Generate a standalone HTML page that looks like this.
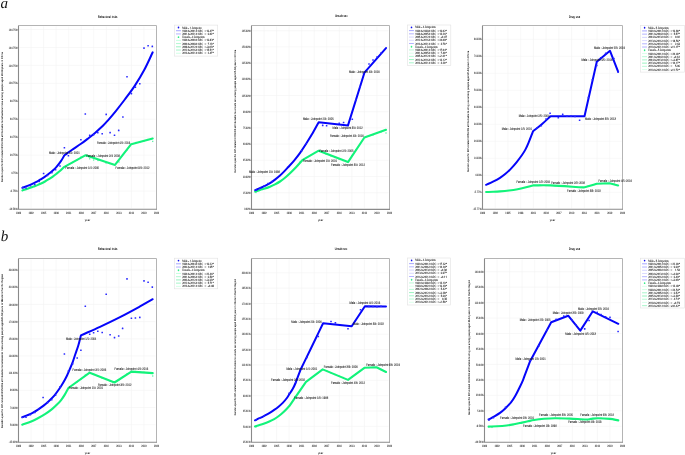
<!DOCTYPE html><html><head><meta charset="utf-8"><style>html,body{margin:0;padding:0;background:#fff;width:685px;height:455px;overflow:hidden}svg{display:block;will-change:transform}</style></head><body>
<svg width="685" height="455" viewBox="0 0 685 455" font-family='&quot;Liberation Sans&quot;, sans-serif' style="text-rendering:geometricPrecision">
<rect width="685" height="455" fill="#fff"/>
<text x="0.6" y="8.0" font-family="'Liberation Serif', serif" font-style="italic" font-size="15" fill="#111">a</text>
<text x="0.8" y="240.8" font-family="'Liberation Serif', serif" font-style="italic" font-size="15" fill="#111">b</text>
<path d="M31.05 26.5V208.3M43.59 26.5V208.3M56.14 26.5V208.3M68.68 26.5V208.3M81.23 26.5V208.3M93.77 26.5V208.3M106.32 26.5V208.3M118.86 26.5V208.3M131.41 26.5V208.3M143.95 26.5V208.3M19.5 29.5H155.5M19.5 47.45H155.5M19.5 65.4H155.5M19.5 83.35H155.5M19.5 101.3H155.5M19.5 119.25H155.5M19.5 137.2H155.5M19.5 155.15H155.5M19.5 173.1H155.5M19.5 191.05H155.5" stroke="#f4f4f4" stroke-width="0.6" fill="none"/>
<path d="M18.5 25.5H156.5V209.3" stroke="#b4b4b4" stroke-width="1" fill="none"/>
<path d="M18.5 25.5V209.3H157" stroke="#8a8a8a" stroke-width="1.1" fill="none"/>
<text x="17.5" y="30.6" font-size="3.2" text-anchor="end" fill="#222" font-weight="normal" textLength="8.82" lengthAdjust="spacingAndGlyphs"  stroke="#222" stroke-width="0.06">164.75%</text>
<path d="M17.2 29.5H18.5" stroke="#777" stroke-width="0.5"/>
<text x="17.5" y="48.55" font-size="3.2" text-anchor="end" fill="#222" font-weight="normal" textLength="8.82" lengthAdjust="spacingAndGlyphs"  stroke="#222" stroke-width="0.06">144.75%</text>
<path d="M17.2 47.45H18.5" stroke="#777" stroke-width="0.5"/>
<text x="17.5" y="66.5" font-size="3.2" text-anchor="end" fill="#222" font-weight="normal" textLength="8.82" lengthAdjust="spacingAndGlyphs"  stroke="#222" stroke-width="0.06">124.75%</text>
<path d="M17.2 65.4H18.5" stroke="#777" stroke-width="0.5"/>
<text x="17.5" y="84.45" font-size="3.2" text-anchor="end" fill="#222" font-weight="normal" textLength="8.82" lengthAdjust="spacingAndGlyphs"  stroke="#222" stroke-width="0.06">104.75%</text>
<path d="M17.2 83.35H18.5" stroke="#777" stroke-width="0.5"/>
<text x="17.5" y="102.4" font-size="3.2" text-anchor="end" fill="#222" font-weight="normal" textLength="7.56" lengthAdjust="spacingAndGlyphs"  stroke="#222" stroke-width="0.06">84.75%</text>
<path d="M17.2 101.3H18.5" stroke="#777" stroke-width="0.5"/>
<text x="17.5" y="120.35" font-size="3.2" text-anchor="end" fill="#222" font-weight="normal" textLength="7.56" lengthAdjust="spacingAndGlyphs"  stroke="#222" stroke-width="0.06">64.75%</text>
<path d="M17.2 119.25H18.5" stroke="#777" stroke-width="0.5"/>
<text x="17.5" y="138.3" font-size="3.2" text-anchor="end" fill="#222" font-weight="normal" textLength="7.56" lengthAdjust="spacingAndGlyphs"  stroke="#222" stroke-width="0.06">44.75%</text>
<path d="M17.2 137.2H18.5" stroke="#777" stroke-width="0.5"/>
<text x="17.5" y="156.25" font-size="3.2" text-anchor="end" fill="#222" font-weight="normal" textLength="7.56" lengthAdjust="spacingAndGlyphs"  stroke="#222" stroke-width="0.06">24.75%</text>
<path d="M17.2 155.15H18.5" stroke="#777" stroke-width="0.5"/>
<text x="17.5" y="174.2" font-size="3.2" text-anchor="end" fill="#222" font-weight="normal" textLength="6.3" lengthAdjust="spacingAndGlyphs"  stroke="#222" stroke-width="0.06">4.75%</text>
<path d="M17.2 173.1H18.5" stroke="#777" stroke-width="0.5"/>
<text x="17.5" y="192.15" font-size="3.2" text-anchor="end" fill="#222" font-weight="normal" textLength="7.56" lengthAdjust="spacingAndGlyphs"  stroke="#222" stroke-width="0.06">-0.75%</text>
<path d="M17.2 191.05H18.5" stroke="#777" stroke-width="0.5"/>
<text x="17.5" y="210.1" font-size="3.2" text-anchor="end" fill="#222" font-weight="normal" textLength="8.82" lengthAdjust="spacingAndGlyphs"  stroke="#222" stroke-width="0.06">-14.58%</text>
<path d="M17.2 209H18.5" stroke="#777" stroke-width="0.5"/>
<text x="18.5" y="213.95" font-size="3.2" text-anchor="middle" fill="#222" font-weight="normal" textLength="5.2" lengthAdjust="spacingAndGlyphs"  stroke="#222" stroke-width="0.06">1989</text>
<text x="31.05" y="213.95" font-size="3.2" text-anchor="middle" fill="#222" font-weight="normal" textLength="5.2" lengthAdjust="spacingAndGlyphs"  stroke="#222" stroke-width="0.06">1992</text>
<text x="43.59" y="213.95" font-size="3.2" text-anchor="middle" fill="#222" font-weight="normal" textLength="5.2" lengthAdjust="spacingAndGlyphs"  stroke="#222" stroke-width="0.06">1995</text>
<text x="56.14" y="213.95" font-size="3.2" text-anchor="middle" fill="#222" font-weight="normal" textLength="5.2" lengthAdjust="spacingAndGlyphs"  stroke="#222" stroke-width="0.06">1998</text>
<text x="68.68" y="213.95" font-size="3.2" text-anchor="middle" fill="#222" font-weight="normal" textLength="5.2" lengthAdjust="spacingAndGlyphs"  stroke="#222" stroke-width="0.06">2001</text>
<text x="81.23" y="213.95" font-size="3.2" text-anchor="middle" fill="#222" font-weight="normal" textLength="5.2" lengthAdjust="spacingAndGlyphs"  stroke="#222" stroke-width="0.06">2004</text>
<text x="93.77" y="213.95" font-size="3.2" text-anchor="middle" fill="#222" font-weight="normal" textLength="5.2" lengthAdjust="spacingAndGlyphs"  stroke="#222" stroke-width="0.06">2007</text>
<text x="106.32" y="213.95" font-size="3.2" text-anchor="middle" fill="#222" font-weight="normal" textLength="5.2" lengthAdjust="spacingAndGlyphs"  stroke="#222" stroke-width="0.06">2010</text>
<text x="118.86" y="213.95" font-size="3.2" text-anchor="middle" fill="#222" font-weight="normal" textLength="5.2" lengthAdjust="spacingAndGlyphs"  stroke="#222" stroke-width="0.06">2013</text>
<text x="131.41" y="213.95" font-size="3.2" text-anchor="middle" fill="#222" font-weight="normal" textLength="5.2" lengthAdjust="spacingAndGlyphs"  stroke="#222" stroke-width="0.06">2016</text>
<text x="143.95" y="213.95" font-size="3.2" text-anchor="middle" fill="#222" font-weight="normal" textLength="5.2" lengthAdjust="spacingAndGlyphs"  stroke="#222" stroke-width="0.06">2019</text>
<text x="156.5" y="213.95" font-size="3.2" text-anchor="middle" fill="#222" font-weight="normal" textLength="5.2" lengthAdjust="spacingAndGlyphs"  stroke="#222" stroke-width="0.06">2022</text>
<text x="87.5" y="221" font-size="3" text-anchor="middle" fill="#222" font-weight="bold" textLength="5.3" lengthAdjust="spacingAndGlyphs" >year</text>
<text x="107.8" y="17.5" font-size="3.5" text-anchor="middle" fill="#111" font-weight="bold" textLength="19.4" lengthAdjust="spacingAndGlyphs" >Behavioral risks</text>
<text x="0" y="0" font-size="2.7" font-weight="bold" text-anchor="middle" fill="#111" textLength="130" lengthAdjust="spacingAndGlyphs" transform="translate(3.4 117) rotate(-90)">Gender-specific BIP-related HIV/AIDS attributable to behavioral risks among people aged 20-54 years in China</text>
<rect x="89.05" y="158.15" width="1.3" height="1.3" fill="#5ff0a8"/>
<rect x="92.95" y="159.35" width="1.3" height="1.3" fill="#5ff0a8"/>
<rect x="152.05" y="140.75" width="1.3" height="1.3" fill="#5ff0a8"/>
<rect x="97.35" y="159.85" width="1.3" height="1.3" fill="#5ff0a8"/>
<rect x="105.35" y="162.35" width="1.3" height="1.3" fill="#5ff0a8"/>
<rect x="109.35" y="162.85" width="1.3" height="1.3" fill="#5ff0a8"/>
<rect x="118.35" y="161.35" width="1.3" height="1.3" fill="#5ff0a8"/>
<rect x="126.35" y="149.35" width="1.3" height="1.3" fill="#5ff0a8"/>
<rect x="135.35" y="141.85" width="1.3" height="1.3" fill="#5ff0a8"/>
<rect x="139.35" y="141.15" width="1.3" height="1.3" fill="#5ff0a8"/>
<rect x="143.35" y="140.35" width="1.3" height="1.3" fill="#5ff0a8"/>
<rect x="147.35" y="138.85" width="1.3" height="1.3" fill="#5ff0a8"/>
<rect x="71.95" y="161.85" width="1.3" height="1.3" fill="#5ff0a8"/>
<rect x="76.35" y="159.35" width="1.3" height="1.3" fill="#5ff0a8"/>
<rect x="80.35" y="156.35" width="1.3" height="1.3" fill="#5ff0a8"/>
<path d="M22.4 190.4C24.1 189.83 25.67 189.33 27.5 188.7C29.33 188.07 31.73 187.2 33.4 186.6C35.07 186 36.22 185.62 37.5 185.1C38.78 184.58 39.85 184.1 41.1 183.5C42.35 182.9 43.72 182.22 45 181.5C46.28 180.78 47.5 180.02 48.8 179.2C50.1 178.38 51.52 177.5 52.8 176.6C54.08 175.7 55.22 174.82 56.5 173.8C57.78 172.78 59.18 171.67 60.5 170.5C61.82 169.33 63.1 168.03 64.4 166.8L85.7 155.2L115 164.9L131.2 144.2L152.7 138.5" fill="none" stroke="#12f37a" stroke-width="2.1" stroke-linejoin="round" stroke-linecap="round"/>
<path d="M22.4 187.8C24.1 187.17 25.67 186.65 27.5 185.9C29.33 185.15 31.73 184.07 33.4 183.3C35.07 182.53 36.22 182 37.5 181.3C38.78 180.6 39.85 179.88 41.1 179.1C42.35 178.32 43.72 177.48 45 176.6C46.28 175.72 47.5 174.82 48.8 173.8C50.1 172.78 51.52 171.65 52.8 170.5C54.08 169.35 55.12 168.5 56.5 166.9C57.88 165.3 59.78 162.83 61.1 160.9C62.42 158.97 63.3 157.17 64.4 155.3C66.87 153.53 69.03 151.92 71.8 150C74.57 148.08 78.38 145.65 81 143.8C83.62 141.95 85.17 140.72 87.5 138.9C89.83 137.08 92.43 135.08 95 132.9C97.57 130.72 100.73 127.9 102.9 125.8C105.07 123.7 105.82 122.8 108 120.3C110.18 117.8 113.2 114.27 116 110.8C118.8 107.33 121.68 103.65 124.8 99.5C127.92 95.35 131.4 90.95 134.7 85.9C138 80.85 141.6 74.8 144.6 69.2C147.6 63.6 150 57.93 152.7 52.3" fill="none" stroke="#0505fa" stroke-width="2.0" stroke-linejoin="round" stroke-linecap="round"/>
<rect x="84.5" y="113.2" width="1.6" height="1.6" rx="0.3" fill="#2a2aff"/>
<rect x="105.4" y="113.6" width="1.6" height="1.6" rx="0.3" fill="#2a2aff"/>
<rect x="122.1" y="116.2" width="1.6" height="1.6" rx="0.3" fill="#2a2aff"/>
<rect x="126.2" y="75.9" width="1.6" height="1.6" rx="0.3" fill="#2a2aff"/>
<rect x="130.6" y="92.8" width="1.6" height="1.6" rx="0.3" fill="#2a2aff"/>
<rect x="134.6" y="86.4" width="1.6" height="1.6" rx="0.3" fill="#2a2aff"/>
<rect x="139" y="82.9" width="1.6" height="1.6" rx="0.3" fill="#2a2aff"/>
<rect x="143.2" y="47.3" width="1.6" height="1.6" rx="0.3" fill="#2a2aff"/>
<rect x="147.3" y="44.9" width="1.6" height="1.6" rx="0.3" fill="#2a2aff"/>
<rect x="151.5" y="45.6" width="1.6" height="1.6" rx="0.3" fill="#2a2aff"/>
<rect x="42.8" y="172.7" width="1.6" height="1.6" rx="0.3" fill="#2a2aff"/>
<rect x="46.7" y="174.7" width="1.6" height="1.6" rx="0.3" fill="#2a2aff"/>
<rect x="51.1" y="171.8" width="1.6" height="1.6" rx="0.3" fill="#2a2aff"/>
<rect x="54.8" y="169" width="1.6" height="1.6" rx="0.3" fill="#2a2aff"/>
<rect x="59.2" y="165.2" width="1.6" height="1.6" rx="0.3" fill="#2a2aff"/>
<rect x="63.6" y="147" width="1.6" height="1.6" rx="0.3" fill="#2a2aff"/>
<rect x="67.6" y="154.9" width="1.6" height="1.6" rx="0.3" fill="#2a2aff"/>
<rect x="80.1" y="138.9" width="1.6" height="1.6" rx="0.3" fill="#2a2aff"/>
<rect x="88.9" y="134.5" width="1.6" height="1.6" rx="0.3" fill="#2a2aff"/>
<rect x="92.8" y="134" width="1.6" height="1.6" rx="0.3" fill="#2a2aff"/>
<rect x="97" y="131.8" width="1.6" height="1.6" rx="0.3" fill="#2a2aff"/>
<rect x="101.4" y="132.9" width="1.6" height="1.6" rx="0.3" fill="#2a2aff"/>
<rect x="109.3" y="131.8" width="1.6" height="1.6" rx="0.3" fill="#2a2aff"/>
<rect x="113.7" y="134.5" width="1.6" height="1.6" rx="0.3" fill="#2a2aff"/>
<rect x="117.9" y="129.6" width="1.6" height="1.6" rx="0.3" fill="#2a2aff"/>
<rect x="21.9" y="186.7" width="1.6" height="1.6" rx="0.3" fill="#2a2aff"/>
<rect x="25.2" y="187.2" width="1.6" height="1.6" rx="0.3" fill="#2a2aff"/>
<rect x="29.6" y="185" width="1.6" height="1.6" rx="0.3" fill="#2a2aff"/>
<rect x="34" y="183.7" width="1.6" height="1.6" rx="0.3" fill="#2a2aff"/>
<rect x="38.4" y="180.7" width="1.6" height="1.6" rx="0.3" fill="#2a2aff"/>
<text x="49" y="153.65" font-size="3.6" text-anchor="start" fill="#1a1a1a" font-weight="normal" textLength="30.8" lengthAdjust="spacingAndGlyphs"  stroke="#1a1a1a" stroke-width="0.08">Male - Joinpoint 1/1: 2001</text>
<text x="65.5" y="168.55" font-size="3.6" text-anchor="start" fill="#1a1a1a" font-weight="normal" textLength="33.6" lengthAdjust="spacingAndGlyphs"  stroke="#1a1a1a" stroke-width="0.08">Female - Joinpoint 1/4: 2000</text>
<text x="86.4" y="156.75" font-size="3.6" text-anchor="start" fill="#1a1a1a" font-weight="normal" textLength="33.6" lengthAdjust="spacingAndGlyphs"  stroke="#1a1a1a" stroke-width="0.08">Female - Joinpoint 2/4: 2008</text>
<text x="115.6" y="168.85" font-size="3.6" text-anchor="start" fill="#1a1a1a" font-weight="normal" textLength="33.8" lengthAdjust="spacingAndGlyphs"  stroke="#1a1a1a" stroke-width="0.08">Female - Joinpoint 3/4: 2012</text>
<text x="97" y="143.75" font-size="3.6" text-anchor="start" fill="#1a1a1a" font-weight="normal" textLength="33.3" lengthAdjust="spacingAndGlyphs"  stroke="#1a1a1a" stroke-width="0.08">Female - Joinpoint 4/4: 2016</text>
<rect x="174.3" y="25.1" width="43.4" height="31" fill="#fff" stroke="#e2e2e2" stroke-width="0.6"/>
<ellipse cx="178.5" cy="27.5" rx="0.8" ry="0.95" fill="#1010ee"/>
<text x="182.15" y="28.55" font-size="3.2" text-anchor="start" fill="#1a1a1a" font-weight="normal" textLength="19.26" lengthAdjust="spacingAndGlyphs" font-family="'Liberation Serif', serif" stroke="#1a1a1a" stroke-width="0.09">Male - 1 Joinpoint</text>
<path d="M176 30.72H180.9" stroke="#8f8fff" stroke-width="0.8"/>
<text x="182.15" y="31.77" font-size="3.2" text-anchor="start" fill="#1a1a1a" font-weight="normal" textLength="20.9" lengthAdjust="spacingAndGlyphs" font-family="'Liberation Serif', serif" stroke="#1a1a1a" stroke-width="0.09">1990.0-2001.0 APC</text>
<text x="204.5" y="31.77" font-size="3.2" text-anchor="start" fill="#1a1a1a" font-weight="normal" font-family="'Liberation Serif', serif" stroke="#1a1a1a" stroke-width="0.09">=</text>
<text x="213.9" y="31.77" font-size="3.2" text-anchor="end" fill="#1a1a1a" font-weight="normal" textLength="7.5" lengthAdjust="spacingAndGlyphs" font-family="'Liberation Serif', serif" stroke="#1a1a1a" stroke-width="0.09">16.47*</text>
<path d="M176 33.94H180.9" stroke="#9f9fff" stroke-width="0.8"/>
<text x="182.15" y="34.99" font-size="3.2" text-anchor="start" fill="#1a1a1a" font-weight="normal" textLength="20.9" lengthAdjust="spacingAndGlyphs" font-family="'Liberation Serif', serif" stroke="#1a1a1a" stroke-width="0.09">2001.0-2021.0 APC</text>
<text x="204.5" y="34.99" font-size="3.2" text-anchor="start" fill="#1a1a1a" font-weight="normal" font-family="'Liberation Serif', serif" stroke="#1a1a1a" stroke-width="0.09">=</text>
<text x="213.9" y="34.99" font-size="3.2" text-anchor="end" fill="#1a1a1a" font-weight="normal" textLength="6.25" lengthAdjust="spacingAndGlyphs" font-family="'Liberation Serif', serif" stroke="#1a1a1a" stroke-width="0.09">6.02*</text>
<ellipse cx="178.5" cy="37.16" rx="0.8" ry="0.95" fill="#33ee88"/>
<text x="182.15" y="38.21" font-size="3.2" text-anchor="start" fill="#1a1a1a" font-weight="normal" textLength="22.47" lengthAdjust="spacingAndGlyphs" font-family="'Liberation Serif', serif" stroke="#1a1a1a" stroke-width="0.09">Female - 4 Joinpoints</text>
<path d="M176 40.38H180.9" stroke="#b8ffd8" stroke-width="0.8"/>
<text x="182.15" y="41.43" font-size="3.2" text-anchor="start" fill="#1a1a1a" font-weight="normal" textLength="20.9" lengthAdjust="spacingAndGlyphs" font-family="'Liberation Serif', serif" stroke="#1a1a1a" stroke-width="0.09">1990.0-2000.0 APC</text>
<text x="204.5" y="41.43" font-size="3.2" text-anchor="start" fill="#1a1a1a" font-weight="normal" font-family="'Liberation Serif', serif" stroke="#1a1a1a" stroke-width="0.09">=</text>
<text x="213.9" y="41.43" font-size="3.2" text-anchor="end" fill="#1a1a1a" font-weight="normal" textLength="7.5" lengthAdjust="spacingAndGlyphs" font-family="'Liberation Serif', serif" stroke="#1a1a1a" stroke-width="0.09">16.83*</text>
<path d="M176 43.6H180.9" stroke="#9cf5c4" stroke-width="0.8"/>
<text x="182.15" y="44.65" font-size="3.2" text-anchor="start" fill="#1a1a1a" font-weight="normal" textLength="20.9" lengthAdjust="spacingAndGlyphs" font-family="'Liberation Serif', serif" stroke="#1a1a1a" stroke-width="0.09">2000.0-2008.0 APC</text>
<text x="204.5" y="44.65" font-size="3.2" text-anchor="start" fill="#1a1a1a" font-weight="normal" font-family="'Liberation Serif', serif" stroke="#1a1a1a" stroke-width="0.09">=</text>
<text x="213.9" y="44.65" font-size="3.2" text-anchor="end" fill="#1a1a1a" font-weight="normal" textLength="6.25" lengthAdjust="spacingAndGlyphs" font-family="'Liberation Serif', serif" stroke="#1a1a1a" stroke-width="0.09">7.13*</text>
<path d="M176 46.82H180.9" stroke="#7ff0b0" stroke-width="0.8"/>
<text x="182.15" y="47.87" font-size="3.2" text-anchor="start" fill="#1a1a1a" font-weight="normal" textLength="20.9" lengthAdjust="spacingAndGlyphs" font-family="'Liberation Serif', serif" stroke="#1a1a1a" stroke-width="0.09">2008.0-2012.0 APC</text>
<text x="204.5" y="47.87" font-size="3.2" text-anchor="start" fill="#1a1a1a" font-weight="normal" font-family="'Liberation Serif', serif" stroke="#1a1a1a" stroke-width="0.09">=</text>
<text x="213.9" y="47.87" font-size="3.2" text-anchor="end" fill="#1a1a1a" font-weight="normal" textLength="7.5" lengthAdjust="spacingAndGlyphs" font-family="'Liberation Serif', serif" stroke="#1a1a1a" stroke-width="0.09">-3.03*</text>
<path d="M176 50.04H180.9" stroke="#8ff2bc" stroke-width="0.8"/>
<text x="182.15" y="51.09" font-size="3.2" text-anchor="start" fill="#1a1a1a" font-weight="normal" textLength="20.9" lengthAdjust="spacingAndGlyphs" font-family="'Liberation Serif', serif" stroke="#1a1a1a" stroke-width="0.09">2012.0-2016.0 APC</text>
<text x="204.5" y="51.09" font-size="3.2" text-anchor="start" fill="#1a1a1a" font-weight="normal" font-family="'Liberation Serif', serif" stroke="#1a1a1a" stroke-width="0.09">=</text>
<text x="213.9" y="51.09" font-size="3.2" text-anchor="end" fill="#1a1a1a" font-weight="normal" textLength="7.5" lengthAdjust="spacingAndGlyphs" font-family="'Liberation Serif', serif" stroke="#1a1a1a" stroke-width="0.09">15.51*</text>
<path d="M176 53.26H180.9" stroke="#c8ffe0" stroke-width="0.8"/>
<text x="182.15" y="54.31" font-size="3.2" text-anchor="start" fill="#1a1a1a" font-weight="normal" textLength="20.9" lengthAdjust="spacingAndGlyphs" font-family="'Liberation Serif', serif" stroke="#1a1a1a" stroke-width="0.09">2016.0-2021.0 APC</text>
<text x="204.5" y="54.31" font-size="3.2" text-anchor="start" fill="#1a1a1a" font-weight="normal" font-family="'Liberation Serif', serif" stroke="#1a1a1a" stroke-width="0.09">=</text>
<text x="213.9" y="54.31" font-size="3.2" text-anchor="end" fill="#1a1a1a" font-weight="normal" textLength="6.25" lengthAdjust="spacingAndGlyphs" font-family="'Liberation Serif', serif" stroke="#1a1a1a" stroke-width="0.09">2.47*</text>
<path d="M264.05 26.5V208.4M276.59 26.5V208.4M289.14 26.5V208.4M301.68 26.5V208.4M314.23 26.5V208.4M326.77 26.5V208.4M339.32 26.5V208.4M351.86 26.5V208.4M364.41 26.5V208.4M376.95 26.5V208.4M252.5 30.7H388.5M252.5 46.9H388.5M252.5 63.1H388.5M252.5 79.3H388.5M252.5 95.5H388.5M252.5 111.7H388.5M252.5 127.9H388.5M252.5 144.1H388.5M252.5 160.3H388.5M252.5 176.5H388.5M252.5 192.7H388.5" stroke="#f4f4f4" stroke-width="0.6" fill="none"/>
<path d="M251.5 25.5H389.5V209.4" stroke="#b4b4b4" stroke-width="1" fill="none"/>
<path d="M251.5 25.5V209.4H390" stroke="#8a8a8a" stroke-width="1.1" fill="none"/>
<text x="250.5" y="31.8" font-size="3.2" text-anchor="end" fill="#222" font-weight="normal" textLength="8.82" lengthAdjust="spacingAndGlyphs"  stroke="#222" stroke-width="0.06">165.92%</text>
<path d="M250.2 30.7H251.5" stroke="#777" stroke-width="0.5"/>
<text x="250.5" y="48" font-size="3.2" text-anchor="end" fill="#222" font-weight="normal" textLength="8.82" lengthAdjust="spacingAndGlyphs"  stroke="#222" stroke-width="0.06">150.92%</text>
<path d="M250.2 46.9H251.5" stroke="#777" stroke-width="0.5"/>
<text x="250.5" y="64.2" font-size="3.2" text-anchor="end" fill="#222" font-weight="normal" textLength="8.82" lengthAdjust="spacingAndGlyphs"  stroke="#222" stroke-width="0.06">135.92%</text>
<path d="M250.2 63.1H251.5" stroke="#777" stroke-width="0.5"/>
<text x="250.5" y="80.4" font-size="3.2" text-anchor="end" fill="#222" font-weight="normal" textLength="8.82" lengthAdjust="spacingAndGlyphs"  stroke="#222" stroke-width="0.06">120.92%</text>
<path d="M250.2 79.3H251.5" stroke="#777" stroke-width="0.5"/>
<text x="250.5" y="96.6" font-size="3.2" text-anchor="end" fill="#222" font-weight="normal" textLength="8.82" lengthAdjust="spacingAndGlyphs"  stroke="#222" stroke-width="0.06">105.92%</text>
<path d="M250.2 95.5H251.5" stroke="#777" stroke-width="0.5"/>
<text x="250.5" y="112.8" font-size="3.2" text-anchor="end" fill="#222" font-weight="normal" textLength="7.56" lengthAdjust="spacingAndGlyphs"  stroke="#222" stroke-width="0.06">90.92%</text>
<path d="M250.2 111.7H251.5" stroke="#777" stroke-width="0.5"/>
<text x="250.5" y="129" font-size="3.2" text-anchor="end" fill="#222" font-weight="normal" textLength="7.56" lengthAdjust="spacingAndGlyphs"  stroke="#222" stroke-width="0.06">75.92%</text>
<path d="M250.2 127.9H251.5" stroke="#777" stroke-width="0.5"/>
<text x="250.5" y="145.2" font-size="3.2" text-anchor="end" fill="#222" font-weight="normal" textLength="7.56" lengthAdjust="spacingAndGlyphs"  stroke="#222" stroke-width="0.06">60.92%</text>
<path d="M250.2 144.1H251.5" stroke="#777" stroke-width="0.5"/>
<text x="250.5" y="161.4" font-size="3.2" text-anchor="end" fill="#222" font-weight="normal" textLength="7.56" lengthAdjust="spacingAndGlyphs"  stroke="#222" stroke-width="0.06">45.92%</text>
<path d="M250.2 160.3H251.5" stroke="#777" stroke-width="0.5"/>
<text x="250.5" y="177.6" font-size="3.2" text-anchor="end" fill="#222" font-weight="normal" textLength="7.56" lengthAdjust="spacingAndGlyphs"  stroke="#222" stroke-width="0.06">30.92%</text>
<path d="M250.2 176.5H251.5" stroke="#777" stroke-width="0.5"/>
<text x="250.5" y="193.8" font-size="3.2" text-anchor="end" fill="#222" font-weight="normal" textLength="7.56" lengthAdjust="spacingAndGlyphs"  stroke="#222" stroke-width="0.06">15.92%</text>
<path d="M250.2 192.7H251.5" stroke="#777" stroke-width="0.5"/>
<text x="250.5" y="210" font-size="3.2" text-anchor="end" fill="#222" font-weight="normal" textLength="6.3" lengthAdjust="spacingAndGlyphs"  stroke="#222" stroke-width="0.06">0.92%</text>
<path d="M250.2 208.9H251.5" stroke="#777" stroke-width="0.5"/>
<text x="251.5" y="214.05" font-size="3.2" text-anchor="middle" fill="#222" font-weight="normal" textLength="5.2" lengthAdjust="spacingAndGlyphs"  stroke="#222" stroke-width="0.06">1989</text>
<text x="264.05" y="214.05" font-size="3.2" text-anchor="middle" fill="#222" font-weight="normal" textLength="5.2" lengthAdjust="spacingAndGlyphs"  stroke="#222" stroke-width="0.06">1992</text>
<text x="276.59" y="214.05" font-size="3.2" text-anchor="middle" fill="#222" font-weight="normal" textLength="5.2" lengthAdjust="spacingAndGlyphs"  stroke="#222" stroke-width="0.06">1995</text>
<text x="289.14" y="214.05" font-size="3.2" text-anchor="middle" fill="#222" font-weight="normal" textLength="5.2" lengthAdjust="spacingAndGlyphs"  stroke="#222" stroke-width="0.06">1998</text>
<text x="301.68" y="214.05" font-size="3.2" text-anchor="middle" fill="#222" font-weight="normal" textLength="5.2" lengthAdjust="spacingAndGlyphs"  stroke="#222" stroke-width="0.06">2001</text>
<text x="314.23" y="214.05" font-size="3.2" text-anchor="middle" fill="#222" font-weight="normal" textLength="5.2" lengthAdjust="spacingAndGlyphs"  stroke="#222" stroke-width="0.06">2004</text>
<text x="326.77" y="214.05" font-size="3.2" text-anchor="middle" fill="#222" font-weight="normal" textLength="5.2" lengthAdjust="spacingAndGlyphs"  stroke="#222" stroke-width="0.06">2007</text>
<text x="339.32" y="214.05" font-size="3.2" text-anchor="middle" fill="#222" font-weight="normal" textLength="5.2" lengthAdjust="spacingAndGlyphs"  stroke="#222" stroke-width="0.06">2010</text>
<text x="351.86" y="214.05" font-size="3.2" text-anchor="middle" fill="#222" font-weight="normal" textLength="5.2" lengthAdjust="spacingAndGlyphs"  stroke="#222" stroke-width="0.06">2013</text>
<text x="364.41" y="214.05" font-size="3.2" text-anchor="middle" fill="#222" font-weight="normal" textLength="5.2" lengthAdjust="spacingAndGlyphs"  stroke="#222" stroke-width="0.06">2016</text>
<text x="376.95" y="214.05" font-size="3.2" text-anchor="middle" fill="#222" font-weight="normal" textLength="5.2" lengthAdjust="spacingAndGlyphs"  stroke="#222" stroke-width="0.06">2019</text>
<text x="389.5" y="214.05" font-size="3.2" text-anchor="middle" fill="#222" font-weight="normal" textLength="5.2" lengthAdjust="spacingAndGlyphs"  stroke="#222" stroke-width="0.06">2022</text>
<text x="320.6" y="220.8" font-size="3" text-anchor="middle" fill="#222" font-weight="bold" textLength="5.3" lengthAdjust="spacingAndGlyphs" >year</text>
<text x="341.2" y="17.4" font-size="3.5" text-anchor="middle" fill="#111" font-weight="bold" textLength="12.6" lengthAdjust="spacingAndGlyphs" >Unsafe sex</text>
<text x="0" y="0" font-size="2.7" font-weight="bold" text-anchor="middle" fill="#111" textLength="122.6" lengthAdjust="spacingAndGlyphs" transform="translate(236.3 111.1) rotate(-90)">Gender-specific BIP-related HIV/AIDS attributable to unsafe sex among people aged 20-54 years in China</text>
<rect x="255.35" y="191.85" width="1.3" height="1.3" fill="#5ff0a8"/>
<rect x="299.35" y="161.35" width="1.3" height="1.3" fill="#5ff0a8"/>
<rect x="321.35" y="151.35" width="1.3" height="1.3" fill="#5ff0a8"/>
<rect x="325.35" y="153.35" width="1.3" height="1.3" fill="#5ff0a8"/>
<rect x="330.35" y="155.35" width="1.3" height="1.3" fill="#5ff0a8"/>
<rect x="334.35" y="156.85" width="1.3" height="1.3" fill="#5ff0a8"/>
<rect x="338.35" y="158.35" width="1.3" height="1.3" fill="#5ff0a8"/>
<rect x="342.35" y="159.85" width="1.3" height="1.3" fill="#5ff0a8"/>
<rect x="351.35" y="154.85" width="1.3" height="1.3" fill="#5ff0a8"/>
<rect x="355.35" y="149.35" width="1.3" height="1.3" fill="#5ff0a8"/>
<rect x="368.35" y="135.35" width="1.3" height="1.3" fill="#5ff0a8"/>
<rect x="372.35" y="134.35" width="1.3" height="1.3" fill="#5ff0a8"/>
<rect x="376.35" y="132.35" width="1.3" height="1.3" fill="#5ff0a8"/>
<rect x="380.35" y="131.35" width="1.3" height="1.3" fill="#5ff0a8"/>
<rect x="385.35" y="132.35" width="1.3" height="1.3" fill="#5ff0a8"/>
<path d="M255.2 191.6C256.8 191.07 258.37 190.5 260 190C261.63 189.5 263.33 189.13 265 188.6C266.67 188.07 268.33 187.5 270 186.8C271.67 186.1 273.33 185.28 275 184.4C276.67 183.52 278.33 182.6 280 181.5C281.67 180.4 283.33 179.17 285 177.8C286.67 176.43 288.17 175.05 290 173.3C291.83 171.55 293.95 169.48 296 167.3C298.05 165.12 300.2 162.57 302.3 160.2L318.7 150.7L348 162.1L364.4 137.5L386 129.8" fill="none" stroke="#12f37a" stroke-width="2.1" stroke-linejoin="round" stroke-linecap="round"/>
<path d="M255.2 190.2C256.8 189.5 258.37 188.83 260 188.1C261.63 187.37 263.33 186.63 265 185.8C266.67 184.97 268.33 184.13 270 183.1C271.67 182.07 273.33 180.87 275 179.6C276.67 178.33 278.5 176.83 280 175.5C281.5 174.17 282.67 172.97 284 171.6C285.33 170.23 286.35 169.1 288 167.3C289.65 165.5 291.92 163.17 293.9 160.8C295.88 158.43 297.92 155.87 299.9 153.1C301.88 150.33 303.82 147.28 305.8 144.2C307.78 141.12 309.65 138.27 311.8 134.6C313.95 130.93 316.4 126.33 318.7 122.2L348 125.4L364.4 72.7L386 48.1" fill="none" stroke="#0505fa" stroke-width="2.0" stroke-linejoin="round" stroke-linecap="round"/>
<rect x="301" y="149.8" width="1.6" height="1.6" rx="0.3" fill="#2a2aff"/>
<rect x="305.4" y="143.2" width="1.6" height="1.6" rx="0.3" fill="#2a2aff"/>
<rect x="321.9" y="124.6" width="1.6" height="1.6" rx="0.3" fill="#2a2aff"/>
<rect x="325.8" y="125" width="1.6" height="1.6" rx="0.3" fill="#2a2aff"/>
<rect x="338.4" y="122.4" width="1.6" height="1.6" rx="0.3" fill="#2a2aff"/>
<rect x="342.8" y="121.7" width="1.6" height="1.6" rx="0.3" fill="#2a2aff"/>
<rect x="351.5" y="118.4" width="1.6" height="1.6" rx="0.3" fill="#2a2aff"/>
<rect x="255.2" y="189.2" width="1.6" height="1.6" rx="0.3" fill="#2a2aff"/>
<rect x="259.2" y="187.2" width="1.6" height="1.6" rx="0.3" fill="#2a2aff"/>
<rect x="263.2" y="185.2" width="1.6" height="1.6" rx="0.3" fill="#2a2aff"/>
<rect x="267.2" y="182.7" width="1.6" height="1.6" rx="0.3" fill="#2a2aff"/>
<rect x="271.2" y="180.7" width="1.6" height="1.6" rx="0.3" fill="#2a2aff"/>
<rect x="355.2" y="99.2" width="1.6" height="1.6" rx="0.3" fill="#2a2aff"/>
<rect x="359.2" y="86.2" width="1.6" height="1.6" rx="0.3" fill="#2a2aff"/>
<rect x="368.2" y="63.2" width="1.6" height="1.6" rx="0.3" fill="#2a2aff"/>
<rect x="372.2" y="59.2" width="1.6" height="1.6" rx="0.3" fill="#2a2aff"/>
<rect x="376.2" y="56.2" width="1.6" height="1.6" rx="0.3" fill="#2a2aff"/>
<rect x="380.2" y="52.2" width="1.6" height="1.6" rx="0.3" fill="#2a2aff"/>
<text x="249.1" y="172.75" font-size="3.6" text-anchor="start" fill="#1a1a1a" font-weight="normal" textLength="30.8" lengthAdjust="spacingAndGlyphs"  stroke="#1a1a1a" stroke-width="0.08">Male - Joinpoint 1/4: 1998</text>
<text x="302.9" y="120.45" font-size="3.6" text-anchor="start" fill="#1a1a1a" font-weight="normal" textLength="30.8" lengthAdjust="spacingAndGlyphs"  stroke="#1a1a1a" stroke-width="0.08">Male - Joinpoint 2/4: 2005</text>
<text x="332.6" y="129.45" font-size="3.6" text-anchor="start" fill="#1a1a1a" font-weight="normal" textLength="30.1" lengthAdjust="spacingAndGlyphs"  stroke="#1a1a1a" stroke-width="0.08">Male - Joinpoint 3/4: 2012</text>
<text x="349" y="72.85" font-size="3.6" text-anchor="start" fill="#1a1a1a" font-weight="normal" textLength="30.8" lengthAdjust="spacingAndGlyphs"  stroke="#1a1a1a" stroke-width="0.08">Male - Joinpoint 4/4: 2016</text>
<text x="329.9" y="136.95" font-size="3.6" text-anchor="start" fill="#1a1a1a" font-weight="normal" textLength="33.9" lengthAdjust="spacingAndGlyphs"  stroke="#1a1a1a" stroke-width="0.08">Female - Joinpoint 4/4: 2016</text>
<text x="319.4" y="152.35" font-size="3.6" text-anchor="start" fill="#1a1a1a" font-weight="normal" textLength="34" lengthAdjust="spacingAndGlyphs"  stroke="#1a1a1a" stroke-width="0.08">Female - Joinpoint 2/4: 2005</text>
<text x="302.9" y="162.25" font-size="3.6" text-anchor="start" fill="#1a1a1a" font-weight="normal" textLength="34.1" lengthAdjust="spacingAndGlyphs"  stroke="#1a1a1a" stroke-width="0.08">Female - Joinpoint 1/4: 2001</text>
<text x="331" y="165.75" font-size="3.6" text-anchor="start" fill="#1a1a1a" font-weight="normal" textLength="33.9" lengthAdjust="spacingAndGlyphs"  stroke="#1a1a1a" stroke-width="0.08">Female - Joinpoint 3/4: 2012</text>
<rect x="407.3" y="25" width="43.5" height="40.3" fill="#fff" stroke="#e2e2e2" stroke-width="0.6"/>
<ellipse cx="411.5" cy="27.4" rx="0.8" ry="0.95" fill="#1010ee"/>
<text x="415.15" y="28.45" font-size="3.2" text-anchor="start" fill="#1a1a1a" font-weight="normal" textLength="20.33" lengthAdjust="spacingAndGlyphs" font-family="'Liberation Serif', serif" stroke="#1a1a1a" stroke-width="0.09">Male - 4 Joinpoints</text>
<path d="M409 30.62H413.9" stroke="#8f8fff" stroke-width="0.8"/>
<text x="415.15" y="31.67" font-size="3.2" text-anchor="start" fill="#1a1a1a" font-weight="normal" textLength="20.9" lengthAdjust="spacingAndGlyphs" font-family="'Liberation Serif', serif" stroke="#1a1a1a" stroke-width="0.09">1990.0-1998.0 APC</text>
<text x="437.5" y="31.67" font-size="3.2" text-anchor="start" fill="#1a1a1a" font-weight="normal" font-family="'Liberation Serif', serif" stroke="#1a1a1a" stroke-width="0.09">=</text>
<text x="446.9" y="31.67" font-size="3.2" text-anchor="end" fill="#1a1a1a" font-weight="normal" textLength="7.5" lengthAdjust="spacingAndGlyphs" font-family="'Liberation Serif', serif" stroke="#1a1a1a" stroke-width="0.09">19.02*</text>
<path d="M409 33.84H413.9" stroke="#9f9fff" stroke-width="0.8"/>
<text x="415.15" y="34.89" font-size="3.2" text-anchor="start" fill="#1a1a1a" font-weight="normal" textLength="20.9" lengthAdjust="spacingAndGlyphs" font-family="'Liberation Serif', serif" stroke="#1a1a1a" stroke-width="0.09">1998.0-2005.0 APC</text>
<text x="437.5" y="34.89" font-size="3.2" text-anchor="start" fill="#1a1a1a" font-weight="normal" font-family="'Liberation Serif', serif" stroke="#1a1a1a" stroke-width="0.09">=</text>
<text x="446.9" y="34.89" font-size="3.2" text-anchor="end" fill="#1a1a1a" font-weight="normal" textLength="7.5" lengthAdjust="spacingAndGlyphs" font-family="'Liberation Serif', serif" stroke="#1a1a1a" stroke-width="0.09">13.26*</text>
<path d="M409 37.06H413.9" stroke="#c8c8ff" stroke-width="0.8"/>
<text x="415.15" y="38.11" font-size="3.2" text-anchor="start" fill="#1a1a1a" font-weight="normal" textLength="20.9" lengthAdjust="spacingAndGlyphs" font-family="'Liberation Serif', serif" stroke="#1a1a1a" stroke-width="0.09">2005.0-2012.0 APC</text>
<text x="437.5" y="38.11" font-size="3.2" text-anchor="start" fill="#1a1a1a" font-weight="normal" font-family="'Liberation Serif', serif" stroke="#1a1a1a" stroke-width="0.09">=</text>
<text x="446.9" y="38.11" font-size="3.2" text-anchor="end" fill="#1a1a1a" font-weight="normal" textLength="6.25" lengthAdjust="spacingAndGlyphs" font-family="'Liberation Serif', serif" stroke="#1a1a1a" stroke-width="0.09">-0.47</text>
<path d="M409 40.28H413.9" stroke="#d0d0ff" stroke-width="0.8"/>
<text x="415.15" y="41.33" font-size="3.2" text-anchor="start" fill="#1a1a1a" font-weight="normal" textLength="20.9" lengthAdjust="spacingAndGlyphs" font-family="'Liberation Serif', serif" stroke="#1a1a1a" stroke-width="0.09">2012.0-2016.0 APC</text>
<text x="437.5" y="41.33" font-size="3.2" text-anchor="start" fill="#1a1a1a" font-weight="normal" font-family="'Liberation Serif', serif" stroke="#1a1a1a" stroke-width="0.09">=</text>
<text x="446.9" y="41.33" font-size="3.2" text-anchor="end" fill="#1a1a1a" font-weight="normal" textLength="7.5" lengthAdjust="spacingAndGlyphs" font-family="'Liberation Serif', serif" stroke="#1a1a1a" stroke-width="0.09">24.08*</text>
<path d="M409 43.5H413.9" stroke="#a0a0ff" stroke-width="0.8"/>
<text x="415.15" y="44.55" font-size="3.2" text-anchor="start" fill="#1a1a1a" font-weight="normal" textLength="20.9" lengthAdjust="spacingAndGlyphs" font-family="'Liberation Serif', serif" stroke="#1a1a1a" stroke-width="0.09">2016.0-2021.0 APC</text>
<text x="437.5" y="44.55" font-size="3.2" text-anchor="start" fill="#1a1a1a" font-weight="normal" font-family="'Liberation Serif', serif" stroke="#1a1a1a" stroke-width="0.09">=</text>
<text x="446.9" y="44.55" font-size="3.2" text-anchor="end" fill="#1a1a1a" font-weight="normal" textLength="6.25" lengthAdjust="spacingAndGlyphs" font-family="'Liberation Serif', serif" stroke="#1a1a1a" stroke-width="0.09">3.76*</text>
<ellipse cx="411.5" cy="46.72" rx="0.8" ry="0.95" fill="#33ee88"/>
<text x="415.15" y="47.77" font-size="3.2" text-anchor="start" fill="#1a1a1a" font-weight="normal" textLength="22.47" lengthAdjust="spacingAndGlyphs" font-family="'Liberation Serif', serif" stroke="#1a1a1a" stroke-width="0.09">Female - 4 Joinpoints</text>
<path d="M409 49.94H413.9" stroke="#a8f8cc" stroke-width="0.8"/>
<text x="415.15" y="50.99" font-size="3.2" text-anchor="start" fill="#1a1a1a" font-weight="normal" textLength="20.9" lengthAdjust="spacingAndGlyphs" font-family="'Liberation Serif', serif" stroke="#1a1a1a" stroke-width="0.09">1990.0-2001.0 APC</text>
<text x="437.5" y="50.99" font-size="3.2" text-anchor="start" fill="#1a1a1a" font-weight="normal" font-family="'Liberation Serif', serif" stroke="#1a1a1a" stroke-width="0.09">=</text>
<text x="446.9" y="50.99" font-size="3.2" text-anchor="end" fill="#1a1a1a" font-weight="normal" textLength="7.5" lengthAdjust="spacingAndGlyphs" font-family="'Liberation Serif', serif" stroke="#1a1a1a" stroke-width="0.09">17.04*</text>
<path d="M409 53.16H413.9" stroke="#d0ffe6" stroke-width="0.8"/>
<text x="415.15" y="54.21" font-size="3.2" text-anchor="start" fill="#1a1a1a" font-weight="normal" textLength="20.9" lengthAdjust="spacingAndGlyphs" font-family="'Liberation Serif', serif" stroke="#1a1a1a" stroke-width="0.09">2001.0-2005.0 APC</text>
<text x="437.5" y="54.21" font-size="3.2" text-anchor="start" fill="#1a1a1a" font-weight="normal" font-family="'Liberation Serif', serif" stroke="#1a1a1a" stroke-width="0.09">=</text>
<text x="446.9" y="54.21" font-size="3.2" text-anchor="end" fill="#1a1a1a" font-weight="normal" textLength="6.25" lengthAdjust="spacingAndGlyphs" font-family="'Liberation Serif', serif" stroke="#1a1a1a" stroke-width="0.09">7.40*</text>
<path d="M409 56.38H413.9" stroke="#a8f8cc" stroke-width="0.8"/>
<text x="415.15" y="57.43" font-size="3.2" text-anchor="start" fill="#1a1a1a" font-weight="normal" textLength="20.9" lengthAdjust="spacingAndGlyphs" font-family="'Liberation Serif', serif" stroke="#1a1a1a" stroke-width="0.09">2005.0-2012.0 APC</text>
<text x="437.5" y="57.43" font-size="3.2" text-anchor="start" fill="#1a1a1a" font-weight="normal" font-family="'Liberation Serif', serif" stroke="#1a1a1a" stroke-width="0.09">=</text>
<text x="446.9" y="57.43" font-size="3.2" text-anchor="end" fill="#1a1a1a" font-weight="normal" textLength="7.5" lengthAdjust="spacingAndGlyphs" font-family="'Liberation Serif', serif" stroke="#1a1a1a" stroke-width="0.09">-2.41*</text>
<path d="M409 59.6H413.9" stroke="#7ff0b0" stroke-width="0.8"/>
<text x="415.15" y="60.65" font-size="3.2" text-anchor="start" fill="#1a1a1a" font-weight="normal" textLength="20.9" lengthAdjust="spacingAndGlyphs" font-family="'Liberation Serif', serif" stroke="#1a1a1a" stroke-width="0.09">2012.0-2016.0 APC</text>
<text x="437.5" y="60.65" font-size="3.2" text-anchor="start" fill="#1a1a1a" font-weight="normal" font-family="'Liberation Serif', serif" stroke="#1a1a1a" stroke-width="0.09">=</text>
<text x="446.9" y="60.65" font-size="3.2" text-anchor="end" fill="#1a1a1a" font-weight="normal" textLength="7.5" lengthAdjust="spacingAndGlyphs" font-family="'Liberation Serif', serif" stroke="#1a1a1a" stroke-width="0.09">13.12*</text>
<path d="M409 62.82H413.9" stroke="#8ff2bc" stroke-width="0.8"/>
<text x="415.15" y="63.87" font-size="3.2" text-anchor="start" fill="#1a1a1a" font-weight="normal" textLength="20.9" lengthAdjust="spacingAndGlyphs" font-family="'Liberation Serif', serif" stroke="#1a1a1a" stroke-width="0.09">2016.0-2021.0 APC</text>
<text x="437.5" y="63.87" font-size="3.2" text-anchor="start" fill="#1a1a1a" font-weight="normal" font-family="'Liberation Serif', serif" stroke="#1a1a1a" stroke-width="0.09">=</text>
<text x="446.9" y="63.87" font-size="3.2" text-anchor="end" fill="#1a1a1a" font-weight="normal" textLength="6.25" lengthAdjust="spacingAndGlyphs" font-family="'Liberation Serif', serif" stroke="#1a1a1a" stroke-width="0.09">3.20*</text>
<path d="M495.23 26.5V208.3M507.95 26.5V208.3M520.68 26.5V208.3M533.41 26.5V208.3M546.14 26.5V208.3M558.86 26.5V208.3M571.59 26.5V208.3M584.32 26.5V208.3M597.05 26.5V208.3M609.77 26.5V208.3M483.5 39.3H621.5M483.5 56.3H621.5M483.5 73.3H621.5M483.5 90.3H621.5M483.5 107.3H621.5M483.5 124.3H621.5M483.5 141.3H621.5M483.5 158.3H621.5M483.5 175.3H621.5M483.5 192.3H621.5" stroke="#f4f4f4" stroke-width="0.6" fill="none"/>
<path d="M482.5 25.5H622.5V209.3" stroke="#b4b4b4" stroke-width="1" fill="none"/>
<path d="M482.5 25.5V209.3H623" stroke="#8a8a8a" stroke-width="1.1" fill="none"/>
<text x="481.5" y="40.4" font-size="3.2" text-anchor="end" fill="#222" font-weight="normal" textLength="7.56" lengthAdjust="spacingAndGlyphs"  stroke="#222" stroke-width="0.06">84.23%</text>
<path d="M481.2 39.3H482.5" stroke="#777" stroke-width="0.5"/>
<text x="481.5" y="57.4" font-size="3.2" text-anchor="end" fill="#222" font-weight="normal" textLength="7.56" lengthAdjust="spacingAndGlyphs"  stroke="#222" stroke-width="0.06">74.23%</text>
<path d="M481.2 56.3H482.5" stroke="#777" stroke-width="0.5"/>
<text x="481.5" y="74.4" font-size="3.2" text-anchor="end" fill="#222" font-weight="normal" textLength="7.56" lengthAdjust="spacingAndGlyphs"  stroke="#222" stroke-width="0.06">64.23%</text>
<path d="M481.2 73.3H482.5" stroke="#777" stroke-width="0.5"/>
<text x="481.5" y="91.4" font-size="3.2" text-anchor="end" fill="#222" font-weight="normal" textLength="7.56" lengthAdjust="spacingAndGlyphs"  stroke="#222" stroke-width="0.06">54.23%</text>
<path d="M481.2 90.3H482.5" stroke="#777" stroke-width="0.5"/>
<text x="481.5" y="108.4" font-size="3.2" text-anchor="end" fill="#222" font-weight="normal" textLength="7.56" lengthAdjust="spacingAndGlyphs"  stroke="#222" stroke-width="0.06">44.23%</text>
<path d="M481.2 107.3H482.5" stroke="#777" stroke-width="0.5"/>
<text x="481.5" y="125.4" font-size="3.2" text-anchor="end" fill="#222" font-weight="normal" textLength="7.56" lengthAdjust="spacingAndGlyphs"  stroke="#222" stroke-width="0.06">34.23%</text>
<path d="M481.2 124.3H482.5" stroke="#777" stroke-width="0.5"/>
<text x="481.5" y="142.4" font-size="3.2" text-anchor="end" fill="#222" font-weight="normal" textLength="7.56" lengthAdjust="spacingAndGlyphs"  stroke="#222" stroke-width="0.06">24.23%</text>
<path d="M481.2 141.3H482.5" stroke="#777" stroke-width="0.5"/>
<text x="481.5" y="159.4" font-size="3.2" text-anchor="end" fill="#222" font-weight="normal" textLength="7.56" lengthAdjust="spacingAndGlyphs"  stroke="#222" stroke-width="0.06">14.23%</text>
<path d="M481.2 158.3H482.5" stroke="#777" stroke-width="0.5"/>
<text x="481.5" y="176.4" font-size="3.2" text-anchor="end" fill="#222" font-weight="normal" textLength="6.3" lengthAdjust="spacingAndGlyphs"  stroke="#222" stroke-width="0.06">4.23%</text>
<path d="M481.2 175.3H482.5" stroke="#777" stroke-width="0.5"/>
<text x="481.5" y="193.4" font-size="3.2" text-anchor="end" fill="#222" font-weight="normal" textLength="7.56" lengthAdjust="spacingAndGlyphs"  stroke="#222" stroke-width="0.06">-5.77%</text>
<path d="M481.2 192.3H482.5" stroke="#777" stroke-width="0.5"/>
<text x="481.5" y="210.4" font-size="3.2" text-anchor="end" fill="#222" font-weight="normal" textLength="8.82" lengthAdjust="spacingAndGlyphs"  stroke="#222" stroke-width="0.06">-15.77%</text>
<path d="M481.2 209.3H482.5" stroke="#777" stroke-width="0.5"/>
<text x="482.5" y="214.05" font-size="3.2" text-anchor="middle" fill="#222" font-weight="normal" textLength="5.2" lengthAdjust="spacingAndGlyphs"  stroke="#222" stroke-width="0.06">1989</text>
<text x="495.23" y="214.05" font-size="3.2" text-anchor="middle" fill="#222" font-weight="normal" textLength="5.2" lengthAdjust="spacingAndGlyphs"  stroke="#222" stroke-width="0.06">1992</text>
<text x="507.95" y="214.05" font-size="3.2" text-anchor="middle" fill="#222" font-weight="normal" textLength="5.2" lengthAdjust="spacingAndGlyphs"  stroke="#222" stroke-width="0.06">1995</text>
<text x="520.68" y="214.05" font-size="3.2" text-anchor="middle" fill="#222" font-weight="normal" textLength="5.2" lengthAdjust="spacingAndGlyphs"  stroke="#222" stroke-width="0.06">1998</text>
<text x="533.41" y="214.05" font-size="3.2" text-anchor="middle" fill="#222" font-weight="normal" textLength="5.2" lengthAdjust="spacingAndGlyphs"  stroke="#222" stroke-width="0.06">2001</text>
<text x="546.14" y="214.05" font-size="3.2" text-anchor="middle" fill="#222" font-weight="normal" textLength="5.2" lengthAdjust="spacingAndGlyphs"  stroke="#222" stroke-width="0.06">2004</text>
<text x="558.86" y="214.05" font-size="3.2" text-anchor="middle" fill="#222" font-weight="normal" textLength="5.2" lengthAdjust="spacingAndGlyphs"  stroke="#222" stroke-width="0.06">2007</text>
<text x="571.59" y="214.05" font-size="3.2" text-anchor="middle" fill="#222" font-weight="normal" textLength="5.2" lengthAdjust="spacingAndGlyphs"  stroke="#222" stroke-width="0.06">2010</text>
<text x="584.32" y="214.05" font-size="3.2" text-anchor="middle" fill="#222" font-weight="normal" textLength="5.2" lengthAdjust="spacingAndGlyphs"  stroke="#222" stroke-width="0.06">2013</text>
<text x="597.05" y="214.05" font-size="3.2" text-anchor="middle" fill="#222" font-weight="normal" textLength="5.2" lengthAdjust="spacingAndGlyphs"  stroke="#222" stroke-width="0.06">2016</text>
<text x="609.77" y="214.05" font-size="3.2" text-anchor="middle" fill="#222" font-weight="normal" textLength="5.2" lengthAdjust="spacingAndGlyphs"  stroke="#222" stroke-width="0.06">2019</text>
<text x="622.5" y="214.05" font-size="3.2" text-anchor="middle" fill="#222" font-weight="normal" textLength="5.2" lengthAdjust="spacingAndGlyphs"  stroke="#222" stroke-width="0.06">2022</text>
<text x="552.5" y="220.8" font-size="3" text-anchor="middle" fill="#222" font-weight="bold" textLength="5.3" lengthAdjust="spacingAndGlyphs" >year</text>
<text x="574.5" y="17.5" font-size="3.5" text-anchor="middle" fill="#111" font-weight="bold" textLength="11.2" lengthAdjust="spacingAndGlyphs" >Drug use</text>
<text x="0" y="0" font-size="2.7" font-weight="bold" text-anchor="middle" fill="#111" textLength="121" lengthAdjust="spacingAndGlyphs" transform="translate(469.3 111.3) rotate(-90)">Gender-specific BIP-related HIV/AIDS attributable to drug use among people aged 20-54 years in China</text>
<rect x="539.35" y="184.35" width="1.3" height="1.3" fill="#5ff0a8"/>
<rect x="545.35" y="184.85" width="1.3" height="1.3" fill="#5ff0a8"/>
<rect x="554.35" y="185.15" width="1.3" height="1.3" fill="#5ff0a8"/>
<rect x="559.35" y="185.35" width="1.3" height="1.3" fill="#5ff0a8"/>
<rect x="564.35" y="185.65" width="1.3" height="1.3" fill="#5ff0a8"/>
<rect x="569.35" y="185.95" width="1.3" height="1.3" fill="#5ff0a8"/>
<rect x="574.35" y="186.35" width="1.3" height="1.3" fill="#5ff0a8"/>
<rect x="587.35" y="185.65" width="1.3" height="1.3" fill="#5ff0a8"/>
<rect x="600.35" y="182.85" width="1.3" height="1.3" fill="#5ff0a8"/>
<rect x="604.35" y="182.65" width="1.3" height="1.3" fill="#5ff0a8"/>
<rect x="613.35" y="183.35" width="1.3" height="1.3" fill="#5ff0a8"/>
<path d="M486.1 192C488.4 191.93 490.68 191.9 493 191.8C495.32 191.7 497.33 191.62 500 191.4C502.67 191.18 506.07 190.87 509 190.5C511.93 190.13 514.93 189.68 517.6 189.2C520.27 188.72 522.43 188.23 525 187.6C527.57 186.97 530.33 186.13 533 185.4C538.87 185.4 542.17 185.07 550.6 185.4C559.03 185.73 572.6 186.73 583.6 187.4C585.73 186.87 587.8 186.42 590 185.8C592.2 185.18 594.53 184.4 596.8 183.7L609.5 183.2L618.1 185.4" fill="none" stroke="#12f37a" stroke-width="2.1" stroke-linejoin="round" stroke-linecap="round"/>
<path d="M486.1 184.8C488.4 183.73 490.68 182.77 493 181.6C495.32 180.43 497.92 179.1 500 177.8C502.08 176.5 503.67 175.33 505.5 173.8C507.33 172.27 509.17 170.52 511 168.6C512.83 166.68 514.67 164.57 516.5 162.3C518.33 160.03 520.5 157.15 522 155C523.5 152.85 524.4 151.47 525.5 149.4C526.6 147.33 527.35 145.62 528.6 142.6C529.85 139.58 531.53 135.07 533 131.3C535.93 128.97 538.87 126.82 541.8 124.3C544.73 121.78 547.67 118.9 550.6 116.2L584.5 116.2L596.8 61.8L610 50.8L618.1 71.7" fill="none" stroke="#0505fa" stroke-width="2.0" stroke-linejoin="round" stroke-linecap="round"/>
<rect x="549.3" y="112.5" width="1.6" height="1.6" rx="0.3" fill="#2a2aff"/>
<rect x="557.5" y="116.9" width="1.6" height="1.6" rx="0.3" fill="#2a2aff"/>
<rect x="561.9" y="113.6" width="1.6" height="1.6" rx="0.3" fill="#2a2aff"/>
<rect x="578.8" y="119.5" width="1.6" height="1.6" rx="0.3" fill="#2a2aff"/>
<rect x="540.5" y="125" width="1.6" height="1.6" rx="0.3" fill="#2a2aff"/>
<rect x="587.6" y="96.6" width="1.6" height="1.6" rx="0.3" fill="#2a2aff"/>
<rect x="591.6" y="79" width="1.6" height="1.6" rx="0.3" fill="#2a2aff"/>
<rect x="596" y="64.7" width="1.6" height="1.6" rx="0.3" fill="#2a2aff"/>
<rect x="599.9" y="57" width="1.6" height="1.6" rx="0.3" fill="#2a2aff"/>
<rect x="604.8" y="52.6" width="1.6" height="1.6" rx="0.3" fill="#2a2aff"/>
<rect x="613.1" y="57.7" width="1.6" height="1.6" rx="0.3" fill="#2a2aff"/>
<rect x="617.3" y="71.3" width="1.6" height="1.6" rx="0.3" fill="#2a2aff"/>
<rect x="536.2" y="127.2" width="1.6" height="1.6" rx="0.3" fill="#2a2aff"/>
<rect x="545.2" y="118.2" width="1.6" height="1.6" rx="0.3" fill="#2a2aff"/>
<rect x="566.2" y="115.2" width="1.6" height="1.6" rx="0.3" fill="#2a2aff"/>
<rect x="570.2" y="115.2" width="1.6" height="1.6" rx="0.3" fill="#2a2aff"/>
<rect x="574.2" y="115.7" width="1.6" height="1.6" rx="0.3" fill="#2a2aff"/>
<text x="594.1" y="49.45" font-size="3.6" text-anchor="start" fill="#1a1a1a" font-weight="normal" textLength="30.8" lengthAdjust="spacingAndGlyphs"  stroke="#1a1a1a" stroke-width="0.08">Male - Joinpoint 5/5: 2019</text>
<text x="581.4" y="61.45" font-size="3.6" text-anchor="start" fill="#1a1a1a" font-weight="normal" textLength="31.2" lengthAdjust="spacingAndGlyphs"  stroke="#1a1a1a" stroke-width="0.08">Male - Joinpoint 4/5: 2016</text>
<text x="518.7" y="117.35" font-size="3.6" text-anchor="start" fill="#1a1a1a" font-weight="normal" textLength="30.8" lengthAdjust="spacingAndGlyphs"  stroke="#1a1a1a" stroke-width="0.08">Male - Joinpoint 2/5: 2004</text>
<text x="585.1" y="119.55" font-size="3.6" text-anchor="start" fill="#1a1a1a" font-weight="normal" textLength="30.8" lengthAdjust="spacingAndGlyphs"  stroke="#1a1a1a" stroke-width="0.08">Male - Joinpoint 3/5: 2013</text>
<text x="501.8" y="130.35" font-size="3.6" text-anchor="start" fill="#1a1a1a" font-weight="normal" textLength="30.1" lengthAdjust="spacingAndGlyphs"  stroke="#1a1a1a" stroke-width="0.08">Male - Joinpoint 1/5: 2001</text>
<text x="516.5" y="183.35" font-size="3.6" text-anchor="start" fill="#1a1a1a" font-weight="normal" textLength="33.6" lengthAdjust="spacingAndGlyphs"  stroke="#1a1a1a" stroke-width="0.08">Female - Joinpoint 1/3: 2004</text>
<text x="551.2" y="184.45" font-size="3.6" text-anchor="start" fill="#1a1a1a" font-weight="normal" textLength="33.9" lengthAdjust="spacingAndGlyphs"  stroke="#1a1a1a" stroke-width="0.08">Female - Joinpoint 2/3: 2008</text>
<text x="567.1" y="191.75" font-size="3.6" text-anchor="start" fill="#1a1a1a" font-weight="normal" textLength="33.6" lengthAdjust="spacingAndGlyphs"  stroke="#1a1a1a" stroke-width="0.08">Female - Joinpoint 3/3: 2013</text>
<text x="598.5" y="182.25" font-size="3.6" text-anchor="start" fill="#1a1a1a" font-weight="normal" textLength="33.5" lengthAdjust="spacingAndGlyphs"  stroke="#1a1a1a" stroke-width="0.08">Female - Joinpoint 4/5: 2016</text>
<rect x="640.4" y="25.3" width="44.2" height="46.8" fill="#fff" stroke="#e2e2e2" stroke-width="0.6"/>
<ellipse cx="644.6" cy="27.7" rx="0.8" ry="0.95" fill="#1010ee"/>
<text x="648.25" y="28.75" font-size="3.2" text-anchor="start" fill="#1a1a1a" font-weight="normal" textLength="20.33" lengthAdjust="spacingAndGlyphs" font-family="'Liberation Serif', serif" stroke="#1a1a1a" stroke-width="0.09">Male - 5 Joinpoints</text>
<path d="M642.1 30.92H647" stroke="#8f8fff" stroke-width="0.8"/>
<text x="648.25" y="31.97" font-size="3.2" text-anchor="start" fill="#1a1a1a" font-weight="normal" textLength="20.9" lengthAdjust="spacingAndGlyphs" font-family="'Liberation Serif', serif" stroke="#1a1a1a" stroke-width="0.09">1990.0-2001.0 APC</text>
<text x="670.6" y="31.97" font-size="3.2" text-anchor="start" fill="#1a1a1a" font-weight="normal" font-family="'Liberation Serif', serif" stroke="#1a1a1a" stroke-width="0.09">=</text>
<text x="680" y="31.97" font-size="3.2" text-anchor="end" fill="#1a1a1a" font-weight="normal" textLength="7.5" lengthAdjust="spacingAndGlyphs" font-family="'Liberation Serif', serif" stroke="#1a1a1a" stroke-width="0.09">19.80*</text>
<path d="M642.1 34.14H647" stroke="#9f9fff" stroke-width="0.8"/>
<text x="648.25" y="35.19" font-size="3.2" text-anchor="start" fill="#1a1a1a" font-weight="normal" textLength="20.9" lengthAdjust="spacingAndGlyphs" font-family="'Liberation Serif', serif" stroke="#1a1a1a" stroke-width="0.09">2001.0-2004.0 APC</text>
<text x="670.6" y="35.19" font-size="3.2" text-anchor="start" fill="#1a1a1a" font-weight="normal" font-family="'Liberation Serif', serif" stroke="#1a1a1a" stroke-width="0.09">=</text>
<text x="680" y="35.19" font-size="3.2" text-anchor="end" fill="#1a1a1a" font-weight="normal" textLength="6.25" lengthAdjust="spacingAndGlyphs" font-family="'Liberation Serif', serif" stroke="#1a1a1a" stroke-width="0.09">5.57*</text>
<path d="M642.1 37.36H647" stroke="#c8c8ff" stroke-width="0.8"/>
<text x="648.25" y="38.41" font-size="3.2" text-anchor="start" fill="#1a1a1a" font-weight="normal" textLength="20.9" lengthAdjust="spacingAndGlyphs" font-family="'Liberation Serif', serif" stroke="#1a1a1a" stroke-width="0.09">2004.0-2013.0 APC</text>
<text x="670.6" y="38.41" font-size="3.2" text-anchor="start" fill="#1a1a1a" font-weight="normal" font-family="'Liberation Serif', serif" stroke="#1a1a1a" stroke-width="0.09">=</text>
<text x="680" y="38.41" font-size="3.2" text-anchor="end" fill="#1a1a1a" font-weight="normal" textLength="5" lengthAdjust="spacingAndGlyphs" font-family="'Liberation Serif', serif" stroke="#1a1a1a" stroke-width="0.09">0.02</text>
<path d="M642.1 40.58H647" stroke="#d0d0ff" stroke-width="0.8"/>
<text x="648.25" y="41.63" font-size="3.2" text-anchor="start" fill="#1a1a1a" font-weight="normal" textLength="20.9" lengthAdjust="spacingAndGlyphs" font-family="'Liberation Serif', serif" stroke="#1a1a1a" stroke-width="0.09">2013.0-2016.0 APC</text>
<text x="670.6" y="41.63" font-size="3.2" text-anchor="start" fill="#1a1a1a" font-weight="normal" font-family="'Liberation Serif', serif" stroke="#1a1a1a" stroke-width="0.09">=</text>
<text x="680" y="41.63" font-size="3.2" text-anchor="end" fill="#1a1a1a" font-weight="normal" textLength="7.5" lengthAdjust="spacingAndGlyphs" font-family="'Liberation Serif', serif" stroke="#1a1a1a" stroke-width="0.09">18.56*</text>
<path d="M642.1 43.8H647" stroke="#a0a0ff" stroke-width="0.8"/>
<text x="648.25" y="44.85" font-size="3.2" text-anchor="start" fill="#1a1a1a" font-weight="normal" textLength="20.9" lengthAdjust="spacingAndGlyphs" font-family="'Liberation Serif', serif" stroke="#1a1a1a" stroke-width="0.09">2016.0-2019.0 APC</text>
<text x="670.6" y="44.85" font-size="3.2" text-anchor="start" fill="#1a1a1a" font-weight="normal" font-family="'Liberation Serif', serif" stroke="#1a1a1a" stroke-width="0.09">=</text>
<text x="680" y="44.85" font-size="3.2" text-anchor="end" fill="#1a1a1a" font-weight="normal" textLength="5" lengthAdjust="spacingAndGlyphs" font-family="'Liberation Serif', serif" stroke="#1a1a1a" stroke-width="0.09">2.63</text>
<path d="M642.1 47.02H647" stroke="#9f9fff" stroke-width="0.8"/>
<text x="648.25" y="48.07" font-size="3.2" text-anchor="start" fill="#1a1a1a" font-weight="normal" textLength="20.9" lengthAdjust="spacingAndGlyphs" font-family="'Liberation Serif', serif" stroke="#1a1a1a" stroke-width="0.09">2019.0-2021.0 APC</text>
<text x="670.6" y="48.07" font-size="3.2" text-anchor="start" fill="#1a1a1a" font-weight="normal" font-family="'Liberation Serif', serif" stroke="#1a1a1a" stroke-width="0.09">=</text>
<text x="680" y="48.07" font-size="3.2" text-anchor="end" fill="#1a1a1a" font-weight="normal" textLength="8.75" lengthAdjust="spacingAndGlyphs" font-family="'Liberation Serif', serif" stroke="#1a1a1a" stroke-width="0.09">-11.17*</text>
<ellipse cx="644.6" cy="50.24" rx="0.8" ry="0.95" fill="#33ee88"/>
<text x="648.25" y="51.29" font-size="3.2" text-anchor="start" fill="#1a1a1a" font-weight="normal" textLength="22.47" lengthAdjust="spacingAndGlyphs" font-family="'Liberation Serif', serif" stroke="#1a1a1a" stroke-width="0.09">Female - 5 Joinpoints</text>
<path d="M642.1 53.46H647" stroke="#d0ffe6" stroke-width="0.8"/>
<text x="648.25" y="54.51" font-size="3.2" text-anchor="start" fill="#1a1a1a" font-weight="normal" textLength="20.9" lengthAdjust="spacingAndGlyphs" font-family="'Liberation Serif', serif" stroke="#1a1a1a" stroke-width="0.09">1990.0-2001.0 APC</text>
<text x="670.6" y="54.51" font-size="3.2" text-anchor="start" fill="#1a1a1a" font-weight="normal" font-family="'Liberation Serif', serif" stroke="#1a1a1a" stroke-width="0.09">=</text>
<text x="680" y="54.51" font-size="3.2" text-anchor="end" fill="#1a1a1a" font-weight="normal" textLength="7.5" lengthAdjust="spacingAndGlyphs" font-family="'Liberation Serif', serif" stroke="#1a1a1a" stroke-width="0.09">20.40*</text>
<path d="M642.1 56.68H647" stroke="#a8f8cc" stroke-width="0.8"/>
<text x="648.25" y="57.73" font-size="3.2" text-anchor="start" fill="#1a1a1a" font-weight="normal" textLength="20.9" lengthAdjust="spacingAndGlyphs" font-family="'Liberation Serif', serif" stroke="#1a1a1a" stroke-width="0.09">2001.0-2004.0 APC</text>
<text x="670.6" y="57.73" font-size="3.2" text-anchor="start" fill="#1a1a1a" font-weight="normal" font-family="'Liberation Serif', serif" stroke="#1a1a1a" stroke-width="0.09">=</text>
<text x="680" y="57.73" font-size="3.2" text-anchor="end" fill="#1a1a1a" font-weight="normal" textLength="6.25" lengthAdjust="spacingAndGlyphs" font-family="'Liberation Serif', serif" stroke="#1a1a1a" stroke-width="0.09">-0.61</text>
<path d="M642.1 59.9H647" stroke="#8ff2bc" stroke-width="0.8"/>
<text x="648.25" y="60.95" font-size="3.2" text-anchor="start" fill="#1a1a1a" font-weight="normal" textLength="20.9" lengthAdjust="spacingAndGlyphs" font-family="'Liberation Serif', serif" stroke="#1a1a1a" stroke-width="0.09">2004.0-2013.0 APC</text>
<text x="670.6" y="60.95" font-size="3.2" text-anchor="start" fill="#1a1a1a" font-weight="normal" font-family="'Liberation Serif', serif" stroke="#1a1a1a" stroke-width="0.09">=</text>
<text x="680" y="60.95" font-size="3.2" text-anchor="end" fill="#1a1a1a" font-weight="normal" textLength="7.5" lengthAdjust="spacingAndGlyphs" font-family="'Liberation Serif', serif" stroke="#1a1a1a" stroke-width="0.09">-3.87*</text>
<path d="M642.1 63.12H647" stroke="#7ff0b0" stroke-width="0.8"/>
<text x="648.25" y="64.17" font-size="3.2" text-anchor="start" fill="#1a1a1a" font-weight="normal" textLength="20.9" lengthAdjust="spacingAndGlyphs" font-family="'Liberation Serif', serif" stroke="#1a1a1a" stroke-width="0.09">2013.0-2016.0 APC</text>
<text x="670.6" y="64.17" font-size="3.2" text-anchor="start" fill="#1a1a1a" font-weight="normal" font-family="'Liberation Serif', serif" stroke="#1a1a1a" stroke-width="0.09">=</text>
<text x="680" y="64.17" font-size="3.2" text-anchor="end" fill="#1a1a1a" font-weight="normal" textLength="7.5" lengthAdjust="spacingAndGlyphs" font-family="'Liberation Serif', serif" stroke="#1a1a1a" stroke-width="0.09">10.17*</text>
<path d="M642.1 66.34H647" stroke="#a8f8cc" stroke-width="0.8"/>
<text x="648.25" y="67.39" font-size="3.2" text-anchor="start" fill="#1a1a1a" font-weight="normal" textLength="20.9" lengthAdjust="spacingAndGlyphs" font-family="'Liberation Serif', serif" stroke="#1a1a1a" stroke-width="0.09">2016.0-2019.0 APC</text>
<text x="670.6" y="67.39" font-size="3.2" text-anchor="start" fill="#1a1a1a" font-weight="normal" font-family="'Liberation Serif', serif" stroke="#1a1a1a" stroke-width="0.09">=</text>
<text x="680" y="67.39" font-size="3.2" text-anchor="end" fill="#1a1a1a" font-weight="normal" textLength="5" lengthAdjust="spacingAndGlyphs" font-family="'Liberation Serif', serif" stroke="#1a1a1a" stroke-width="0.09">5.06</text>
<path d="M642.1 69.56H647" stroke="#d0ffe6" stroke-width="0.8"/>
<text x="648.25" y="70.61" font-size="3.2" text-anchor="start" fill="#1a1a1a" font-weight="normal" textLength="20.9" lengthAdjust="spacingAndGlyphs" font-family="'Liberation Serif', serif" stroke="#1a1a1a" stroke-width="0.09">2019.0-2021.0 APC</text>
<text x="670.6" y="70.61" font-size="3.2" text-anchor="start" fill="#1a1a1a" font-weight="normal" font-family="'Liberation Serif', serif" stroke="#1a1a1a" stroke-width="0.09">=</text>
<text x="680" y="70.61" font-size="3.2" text-anchor="end" fill="#1a1a1a" font-weight="normal" textLength="8.75" lengthAdjust="spacingAndGlyphs" font-family="'Liberation Serif', serif" stroke="#1a1a1a" stroke-width="0.09">-11.72*</text>
<path d="M31.05 259.5V441.3M43.59 259.5V441.3M56.14 259.5V441.3M68.68 259.5V441.3M81.23 259.5V441.3M93.77 259.5V441.3M106.32 259.5V441.3M118.86 259.5V441.3M131.41 259.5V441.3M143.95 259.5V441.3M19.5 270.1H155.5M19.5 287.28H155.5M19.5 304.46H155.5M19.5 321.64H155.5M19.5 338.82H155.5M19.5 356H155.5M19.5 373.18H155.5M19.5 390.36H155.5M19.5 407.54H155.5M19.5 424.72H155.5" stroke="#f4f4f4" stroke-width="0.6" fill="none"/>
<path d="M18.5 258.5H156.5V442.3" stroke="#b4b4b4" stroke-width="1" fill="none"/>
<path d="M18.5 258.5V442.3H157" stroke="#8a8a8a" stroke-width="1.1" fill="none"/>
<text x="17.5" y="271.2" font-size="3.2" text-anchor="end" fill="#222" font-weight="normal" textLength="8.82" lengthAdjust="spacingAndGlyphs"  stroke="#222" stroke-width="0.06">234.40%</text>
<path d="M17.2 270.1H18.5" stroke="#777" stroke-width="0.5"/>
<text x="17.5" y="288.38" font-size="3.2" text-anchor="end" fill="#222" font-weight="normal" textLength="8.82" lengthAdjust="spacingAndGlyphs"  stroke="#222" stroke-width="0.06">214.40%</text>
<path d="M17.2 287.28H18.5" stroke="#777" stroke-width="0.5"/>
<text x="17.5" y="305.56" font-size="3.2" text-anchor="end" fill="#222" font-weight="normal" textLength="8.82" lengthAdjust="spacingAndGlyphs"  stroke="#222" stroke-width="0.06">194.40%</text>
<path d="M17.2 304.46H18.5" stroke="#777" stroke-width="0.5"/>
<text x="17.5" y="322.74" font-size="3.2" text-anchor="end" fill="#222" font-weight="normal" textLength="8.82" lengthAdjust="spacingAndGlyphs"  stroke="#222" stroke-width="0.06">174.40%</text>
<path d="M17.2 321.64H18.5" stroke="#777" stroke-width="0.5"/>
<text x="17.5" y="339.92" font-size="3.2" text-anchor="end" fill="#222" font-weight="normal" textLength="8.82" lengthAdjust="spacingAndGlyphs"  stroke="#222" stroke-width="0.06">154.40%</text>
<path d="M17.2 338.82H18.5" stroke="#777" stroke-width="0.5"/>
<text x="17.5" y="357.1" font-size="3.2" text-anchor="end" fill="#222" font-weight="normal" textLength="8.82" lengthAdjust="spacingAndGlyphs"  stroke="#222" stroke-width="0.06">134.40%</text>
<path d="M17.2 356H18.5" stroke="#777" stroke-width="0.5"/>
<text x="17.5" y="374.28" font-size="3.2" text-anchor="end" fill="#222" font-weight="normal" textLength="8.82" lengthAdjust="spacingAndGlyphs"  stroke="#222" stroke-width="0.06">114.40%</text>
<path d="M17.2 373.18H18.5" stroke="#777" stroke-width="0.5"/>
<text x="17.5" y="391.46" font-size="3.2" text-anchor="end" fill="#222" font-weight="normal" textLength="7.56" lengthAdjust="spacingAndGlyphs"  stroke="#222" stroke-width="0.06">94.40%</text>
<path d="M17.2 390.36H18.5" stroke="#777" stroke-width="0.5"/>
<text x="17.5" y="408.64" font-size="3.2" text-anchor="end" fill="#222" font-weight="normal" textLength="7.56" lengthAdjust="spacingAndGlyphs"  stroke="#222" stroke-width="0.06">74.40%</text>
<path d="M17.2 407.54H18.5" stroke="#777" stroke-width="0.5"/>
<text x="17.5" y="425.82" font-size="3.2" text-anchor="end" fill="#222" font-weight="normal" textLength="7.56" lengthAdjust="spacingAndGlyphs"  stroke="#222" stroke-width="0.06">54.40%</text>
<path d="M17.2 424.72H18.5" stroke="#777" stroke-width="0.5"/>
<text x="17.5" y="443" font-size="3.2" text-anchor="end" fill="#222" font-weight="normal" textLength="8.82" lengthAdjust="spacingAndGlyphs"  stroke="#222" stroke-width="0.06">-15.60%</text>
<path d="M17.2 441.9H18.5" stroke="#777" stroke-width="0.5"/>
<text x="18.5" y="447.05" font-size="3.2" text-anchor="middle" fill="#222" font-weight="normal" textLength="5.2" lengthAdjust="spacingAndGlyphs"  stroke="#222" stroke-width="0.06">1989</text>
<text x="31.05" y="447.05" font-size="3.2" text-anchor="middle" fill="#222" font-weight="normal" textLength="5.2" lengthAdjust="spacingAndGlyphs"  stroke="#222" stroke-width="0.06">1992</text>
<text x="43.59" y="447.05" font-size="3.2" text-anchor="middle" fill="#222" font-weight="normal" textLength="5.2" lengthAdjust="spacingAndGlyphs"  stroke="#222" stroke-width="0.06">1995</text>
<text x="56.14" y="447.05" font-size="3.2" text-anchor="middle" fill="#222" font-weight="normal" textLength="5.2" lengthAdjust="spacingAndGlyphs"  stroke="#222" stroke-width="0.06">1998</text>
<text x="68.68" y="447.05" font-size="3.2" text-anchor="middle" fill="#222" font-weight="normal" textLength="5.2" lengthAdjust="spacingAndGlyphs"  stroke="#222" stroke-width="0.06">2001</text>
<text x="81.23" y="447.05" font-size="3.2" text-anchor="middle" fill="#222" font-weight="normal" textLength="5.2" lengthAdjust="spacingAndGlyphs"  stroke="#222" stroke-width="0.06">2004</text>
<text x="93.77" y="447.05" font-size="3.2" text-anchor="middle" fill="#222" font-weight="normal" textLength="5.2" lengthAdjust="spacingAndGlyphs"  stroke="#222" stroke-width="0.06">2007</text>
<text x="106.32" y="447.05" font-size="3.2" text-anchor="middle" fill="#222" font-weight="normal" textLength="5.2" lengthAdjust="spacingAndGlyphs"  stroke="#222" stroke-width="0.06">2010</text>
<text x="118.86" y="447.05" font-size="3.2" text-anchor="middle" fill="#222" font-weight="normal" textLength="5.2" lengthAdjust="spacingAndGlyphs"  stroke="#222" stroke-width="0.06">2013</text>
<text x="131.41" y="447.05" font-size="3.2" text-anchor="middle" fill="#222" font-weight="normal" textLength="5.2" lengthAdjust="spacingAndGlyphs"  stroke="#222" stroke-width="0.06">2016</text>
<text x="143.95" y="447.05" font-size="3.2" text-anchor="middle" fill="#222" font-weight="normal" textLength="5.2" lengthAdjust="spacingAndGlyphs"  stroke="#222" stroke-width="0.06">2019</text>
<text x="156.5" y="447.05" font-size="3.2" text-anchor="middle" fill="#222" font-weight="normal" textLength="5.2" lengthAdjust="spacingAndGlyphs"  stroke="#222" stroke-width="0.06">2022</text>
<text x="87.5" y="453.7" font-size="3" text-anchor="middle" fill="#222" font-weight="bold" textLength="5.3" lengthAdjust="spacingAndGlyphs" >year</text>
<text x="107.8" y="250.2" font-size="3.5" text-anchor="middle" fill="#111" font-weight="bold" textLength="19.4" lengthAdjust="spacingAndGlyphs" >Behavioral risks</text>
<text x="0" y="0" font-size="2.7" font-weight="bold" text-anchor="middle" fill="#111" textLength="154" lengthAdjust="spacingAndGlyphs" transform="translate(3.4 351) rotate(-90)">Gender-specific BIP-related HIV/AIDS attributable to behavioral risks among people aged 20-54 years in Western Pacific Region</text>
<rect x="152.05" y="375.35" width="1.3" height="1.3" fill="#5ff0a8"/>
<rect x="71.95" y="384.35" width="1.3" height="1.3" fill="#5ff0a8"/>
<rect x="76.35" y="381.35" width="1.3" height="1.3" fill="#5ff0a8"/>
<rect x="80.35" y="378.35" width="1.3" height="1.3" fill="#5ff0a8"/>
<rect x="84.65" y="374.35" width="1.3" height="1.3" fill="#5ff0a8"/>
<rect x="92.95" y="373.35" width="1.3" height="1.3" fill="#5ff0a8"/>
<rect x="97.15" y="375.35" width="1.3" height="1.3" fill="#5ff0a8"/>
<rect x="101.35" y="377.35" width="1.3" height="1.3" fill="#5ff0a8"/>
<rect x="105.35" y="378.85" width="1.3" height="1.3" fill="#5ff0a8"/>
<rect x="109.35" y="380.35" width="1.3" height="1.3" fill="#5ff0a8"/>
<rect x="118.05" y="379.35" width="1.3" height="1.3" fill="#5ff0a8"/>
<rect x="121.95" y="376.35" width="1.3" height="1.3" fill="#5ff0a8"/>
<rect x="126.35" y="373.35" width="1.3" height="1.3" fill="#5ff0a8"/>
<rect x="134.75" y="370.85" width="1.3" height="1.3" fill="#5ff0a8"/>
<rect x="139.15" y="371.35" width="1.3" height="1.3" fill="#5ff0a8"/>
<rect x="143.35" y="371.65" width="1.3" height="1.3" fill="#5ff0a8"/>
<rect x="147.45" y="371.95" width="1.3" height="1.3" fill="#5ff0a8"/>
<path d="M22.2 424.7C24.8 423.8 27.53 422.98 30 422C32.47 421.02 34.5 420.1 37 418.8C39.5 417.5 42.45 415.85 45 414.2C47.55 412.55 50.3 410.5 52.3 408.9C54.3 407.3 55.53 406.07 57 404.6C58.47 403.13 59.8 401.77 61.1 400.1C62.4 398.43 63.58 396.62 64.8 394.6C66.02 392.58 67.2 390.2 68.4 388L89.7 372.7L114.5 382.5L131.4 371.6L152.7 373.1" fill="none" stroke="#12f37a" stroke-width="2.1" stroke-linejoin="round" stroke-linecap="round"/>
<path d="M22.2 417.3C23.8 416.67 25.27 416.13 27 415.4C28.73 414.67 30.77 413.87 32.6 412.9C34.43 411.93 36.17 410.82 38 409.6C39.83 408.38 41.77 407.05 43.6 405.6C45.43 404.15 47.18 402.62 49 400.9C50.82 399.18 52.83 397.23 54.5 395.3C56.17 393.37 57.53 391.43 59 389.3C60.47 387.17 62 384.72 63.3 382.5C64.6 380.28 65.7 378.27 66.8 376C67.9 373.73 68.9 371.27 69.9 368.9C70.9 366.53 71.88 364.28 72.8 361.8C73.72 359.32 74.48 356.72 75.4 354C76.32 351.28 77.38 348.6 78.3 345.5C79.22 342.4 80.03 338.77 80.9 335.4C87.27 332.53 93.48 329.85 100 326.8C106.52 323.75 113.33 320.5 120 317.1C126.67 313.7 134.55 309.38 140 306.4C145.45 303.42 148.47 301.6 152.7 299.2" fill="none" stroke="#0505fa" stroke-width="2.0" stroke-linejoin="round" stroke-linecap="round"/>
<rect x="84.5" y="305.4" width="1.6" height="1.6" rx="0.3" fill="#2a2aff"/>
<rect x="105.4" y="293.5" width="1.6" height="1.6" rx="0.3" fill="#2a2aff"/>
<rect x="126.2" y="278.1" width="1.6" height="1.6" rx="0.3" fill="#2a2aff"/>
<rect x="143.2" y="280.1" width="1.6" height="1.6" rx="0.3" fill="#2a2aff"/>
<rect x="147.3" y="281.4" width="1.6" height="1.6" rx="0.3" fill="#2a2aff"/>
<rect x="151.5" y="286.3" width="1.6" height="1.6" rx="0.3" fill="#2a2aff"/>
<rect x="130.6" y="317.4" width="1.6" height="1.6" rx="0.3" fill="#2a2aff"/>
<rect x="134.6" y="317.2" width="1.6" height="1.6" rx="0.3" fill="#2a2aff"/>
<rect x="139" y="316.6" width="1.6" height="1.6" rx="0.3" fill="#2a2aff"/>
<rect x="121.8" y="327.6" width="1.6" height="1.6" rx="0.3" fill="#2a2aff"/>
<rect x="117.9" y="335.2" width="1.6" height="1.6" rx="0.3" fill="#2a2aff"/>
<rect x="113.7" y="336.8" width="1.6" height="1.6" rx="0.3" fill="#2a2aff"/>
<rect x="109.3" y="333.9" width="1.6" height="1.6" rx="0.3" fill="#2a2aff"/>
<rect x="101.4" y="331.7" width="1.6" height="1.6" rx="0.3" fill="#2a2aff"/>
<rect x="97" y="330.4" width="1.6" height="1.6" rx="0.3" fill="#2a2aff"/>
<rect x="92.8" y="331.9" width="1.6" height="1.6" rx="0.3" fill="#2a2aff"/>
<rect x="88.9" y="333.5" width="1.6" height="1.6" rx="0.3" fill="#2a2aff"/>
<rect x="80.1" y="349.5" width="1.6" height="1.6" rx="0.3" fill="#2a2aff"/>
<rect x="63.6" y="353.2" width="1.6" height="1.6" rx="0.3" fill="#2a2aff"/>
<rect x="76.4" y="357.2" width="1.6" height="1.6" rx="0.3" fill="#2a2aff"/>
<rect x="71.8" y="363.1" width="1.6" height="1.6" rx="0.3" fill="#2a2aff"/>
<rect x="67.6" y="370.3" width="1.6" height="1.6" rx="0.3" fill="#2a2aff"/>
<rect x="59.2" y="386.1" width="1.6" height="1.6" rx="0.3" fill="#2a2aff"/>
<rect x="54.8" y="394.3" width="1.6" height="1.6" rx="0.3" fill="#2a2aff"/>
<rect x="50.9" y="398.9" width="1.6" height="1.6" rx="0.3" fill="#2a2aff"/>
<rect x="46.7" y="402" width="1.6" height="1.6" rx="0.3" fill="#2a2aff"/>
<rect x="42.3" y="396.7" width="1.6" height="1.6" rx="0.3" fill="#2a2aff"/>
<rect x="38.4" y="408.5" width="1.6" height="1.6" rx="0.3" fill="#2a2aff"/>
<rect x="34" y="411.6" width="1.6" height="1.6" rx="0.3" fill="#2a2aff"/>
<rect x="29.6" y="413.8" width="1.6" height="1.6" rx="0.3" fill="#2a2aff"/>
<rect x="25.2" y="416.5" width="1.6" height="1.6" rx="0.3" fill="#2a2aff"/>
<rect x="21.9" y="416.5" width="1.6" height="1.6" rx="0.3" fill="#2a2aff"/>
<text x="66" y="339.95" font-size="3.6" text-anchor="start" fill="#1a1a1a" font-weight="normal" textLength="30.3" lengthAdjust="spacingAndGlyphs"  stroke="#1a1a1a" stroke-width="0.08">Male - Joinpoint 1/1: 2004</text>
<text x="72.6" y="371.05" font-size="3.6" text-anchor="start" fill="#1a1a1a" font-weight="normal" textLength="33.6" lengthAdjust="spacingAndGlyphs"  stroke="#1a1a1a" stroke-width="0.08">Female - Joinpoint 2/4: 2006</text>
<text x="68.8" y="389.25" font-size="3.6" text-anchor="start" fill="#1a1a1a" font-weight="normal" textLength="34.1" lengthAdjust="spacingAndGlyphs"  stroke="#1a1a1a" stroke-width="0.08">Female - Joinpoint 1/4: 2001</text>
<text x="98" y="385.95" font-size="3.6" text-anchor="start" fill="#1a1a1a" font-weight="normal" textLength="33.4" lengthAdjust="spacingAndGlyphs"  stroke="#1a1a1a" stroke-width="0.08">Female - Joinpoint 3/4: 2012</text>
<text x="114.5" y="369.95" font-size="3.6" text-anchor="start" fill="#1a1a1a" font-weight="normal" textLength="33.8" lengthAdjust="spacingAndGlyphs"  stroke="#1a1a1a" stroke-width="0.08">Female - Joinpoint 4/4: 2016</text>
<rect x="174.3" y="258.2" width="43.4" height="30.6" fill="#fff" stroke="#e2e2e2" stroke-width="0.6"/>
<ellipse cx="178.5" cy="260.6" rx="0.8" ry="0.95" fill="#1010ee"/>
<text x="182.15" y="261.65" font-size="3.2" text-anchor="start" fill="#1a1a1a" font-weight="normal" textLength="19.26" lengthAdjust="spacingAndGlyphs" font-family="'Liberation Serif', serif" stroke="#1a1a1a" stroke-width="0.09">Male - 1 Joinpoint</text>
<path d="M176 263.82H180.9" stroke="#8f8fff" stroke-width="0.8"/>
<text x="182.15" y="264.87" font-size="3.2" text-anchor="start" fill="#1a1a1a" font-weight="normal" textLength="20.9" lengthAdjust="spacingAndGlyphs" font-family="'Liberation Serif', serif" stroke="#1a1a1a" stroke-width="0.09">1990.0-2004.0 APC</text>
<text x="204.5" y="264.87" font-size="3.2" text-anchor="start" fill="#1a1a1a" font-weight="normal" font-family="'Liberation Serif', serif" stroke="#1a1a1a" stroke-width="0.09">=</text>
<text x="213.9" y="264.87" font-size="3.2" text-anchor="end" fill="#1a1a1a" font-weight="normal" textLength="7.5" lengthAdjust="spacingAndGlyphs" font-family="'Liberation Serif', serif" stroke="#1a1a1a" stroke-width="0.09">16.22*</text>
<path d="M176 267.04H180.9" stroke="#9f9fff" stroke-width="0.8"/>
<text x="182.15" y="268.09" font-size="3.2" text-anchor="start" fill="#1a1a1a" font-weight="normal" textLength="20.9" lengthAdjust="spacingAndGlyphs" font-family="'Liberation Serif', serif" stroke="#1a1a1a" stroke-width="0.09">2004.0-2021.0 APC</text>
<text x="204.5" y="268.09" font-size="3.2" text-anchor="start" fill="#1a1a1a" font-weight="normal" font-family="'Liberation Serif', serif" stroke="#1a1a1a" stroke-width="0.09">=</text>
<text x="213.9" y="268.09" font-size="3.2" text-anchor="end" fill="#1a1a1a" font-weight="normal" textLength="6.25" lengthAdjust="spacingAndGlyphs" font-family="'Liberation Serif', serif" stroke="#1a1a1a" stroke-width="0.09">1.95*</text>
<ellipse cx="178.5" cy="270.26" rx="0.8" ry="0.95" fill="#33ee88"/>
<text x="182.15" y="271.31" font-size="3.2" text-anchor="start" fill="#1a1a1a" font-weight="normal" textLength="22.47" lengthAdjust="spacingAndGlyphs" font-family="'Liberation Serif', serif" stroke="#1a1a1a" stroke-width="0.09">Female - 4 Joinpoints</text>
<path d="M176 273.48H180.9" stroke="#b8ffd8" stroke-width="0.8"/>
<text x="182.15" y="274.53" font-size="3.2" text-anchor="start" fill="#1a1a1a" font-weight="normal" textLength="20.9" lengthAdjust="spacingAndGlyphs" font-family="'Liberation Serif', serif" stroke="#1a1a1a" stroke-width="0.09">1990.0-2001.0 APC</text>
<text x="204.5" y="274.53" font-size="3.2" text-anchor="start" fill="#1a1a1a" font-weight="normal" font-family="'Liberation Serif', serif" stroke="#1a1a1a" stroke-width="0.09">=</text>
<text x="213.9" y="274.53" font-size="3.2" text-anchor="end" fill="#1a1a1a" font-weight="normal" textLength="7.5" lengthAdjust="spacingAndGlyphs" font-family="'Liberation Serif', serif" stroke="#1a1a1a" stroke-width="0.09">22.46*</text>
<path d="M176 276.7H180.9" stroke="#9cf5c4" stroke-width="0.8"/>
<text x="182.15" y="277.75" font-size="3.2" text-anchor="start" fill="#1a1a1a" font-weight="normal" textLength="20.9" lengthAdjust="spacingAndGlyphs" font-family="'Liberation Serif', serif" stroke="#1a1a1a" stroke-width="0.09">2001.0-2006.0 APC</text>
<text x="204.5" y="277.75" font-size="3.2" text-anchor="start" fill="#1a1a1a" font-weight="normal" font-family="'Liberation Serif', serif" stroke="#1a1a1a" stroke-width="0.09">=</text>
<text x="213.9" y="277.75" font-size="3.2" text-anchor="end" fill="#1a1a1a" font-weight="normal" textLength="6.25" lengthAdjust="spacingAndGlyphs" font-family="'Liberation Serif', serif" stroke="#1a1a1a" stroke-width="0.09">6.59*</text>
<path d="M176 279.92H180.9" stroke="#7ff0b0" stroke-width="0.8"/>
<text x="182.15" y="280.97" font-size="3.2" text-anchor="start" fill="#1a1a1a" font-weight="normal" textLength="20.9" lengthAdjust="spacingAndGlyphs" font-family="'Liberation Serif', serif" stroke="#1a1a1a" stroke-width="0.09">2006.0-2012.0 APC</text>
<text x="204.5" y="280.97" font-size="3.2" text-anchor="start" fill="#1a1a1a" font-weight="normal" font-family="'Liberation Serif', serif" stroke="#1a1a1a" stroke-width="0.09">=</text>
<text x="213.9" y="280.97" font-size="3.2" text-anchor="end" fill="#1a1a1a" font-weight="normal" textLength="7.5" lengthAdjust="spacingAndGlyphs" font-family="'Liberation Serif', serif" stroke="#1a1a1a" stroke-width="0.09">-3.33*</text>
<path d="M176 283.14H180.9" stroke="#8ff2bc" stroke-width="0.8"/>
<text x="182.15" y="284.19" font-size="3.2" text-anchor="start" fill="#1a1a1a" font-weight="normal" textLength="20.9" lengthAdjust="spacingAndGlyphs" font-family="'Liberation Serif', serif" stroke="#1a1a1a" stroke-width="0.09">2012.0-2016.0 APC</text>
<text x="204.5" y="284.19" font-size="3.2" text-anchor="start" fill="#1a1a1a" font-weight="normal" font-family="'Liberation Serif', serif" stroke="#1a1a1a" stroke-width="0.09">=</text>
<text x="213.9" y="284.19" font-size="3.2" text-anchor="end" fill="#1a1a1a" font-weight="normal" textLength="6.25" lengthAdjust="spacingAndGlyphs" font-family="'Liberation Serif', serif" stroke="#1a1a1a" stroke-width="0.09">5.71*</text>
<path d="M176 286.36H180.9" stroke="#c8ffe0" stroke-width="0.8"/>
<text x="182.15" y="287.41" font-size="3.2" text-anchor="start" fill="#1a1a1a" font-weight="normal" textLength="20.9" lengthAdjust="spacingAndGlyphs" font-family="'Liberation Serif', serif" stroke="#1a1a1a" stroke-width="0.09">2016.0-2021.0 APC</text>
<text x="204.5" y="287.41" font-size="3.2" text-anchor="start" fill="#1a1a1a" font-weight="normal" font-family="'Liberation Serif', serif" stroke="#1a1a1a" stroke-width="0.09">=</text>
<text x="213.9" y="287.41" font-size="3.2" text-anchor="end" fill="#1a1a1a" font-weight="normal" textLength="6.25" lengthAdjust="spacingAndGlyphs" font-family="'Liberation Serif', serif" stroke="#1a1a1a" stroke-width="0.09">-0.48</text>
<path d="M264.05 259.5V441.3M276.59 259.5V441.3M289.14 259.5V441.3M301.68 259.5V441.3M314.23 259.5V441.3M326.77 259.5V441.3M339.32 259.5V441.3M351.86 259.5V441.3M364.41 259.5V441.3M376.95 259.5V441.3M252.5 272.8H388.5M252.5 288.16H388.5M252.5 303.52H388.5M252.5 318.88H388.5M252.5 334.24H388.5M252.5 349.6H388.5M252.5 364.96H388.5M252.5 380.32H388.5M252.5 395.68H388.5M252.5 411.04H388.5M252.5 426.4H388.5" stroke="#f4f4f4" stroke-width="0.6" fill="none"/>
<path d="M251.5 258.5H389.5V442.3" stroke="#b4b4b4" stroke-width="1" fill="none"/>
<path d="M251.5 258.5V442.3H390" stroke="#8a8a8a" stroke-width="1.1" fill="none"/>
<text x="250.5" y="273.9" font-size="3.2" text-anchor="end" fill="#222" font-weight="normal" textLength="8.82" lengthAdjust="spacingAndGlyphs"  stroke="#222" stroke-width="0.06">200.61%</text>
<path d="M250.2 272.8H251.5" stroke="#777" stroke-width="0.5"/>
<text x="250.5" y="289.26" font-size="3.2" text-anchor="end" fill="#222" font-weight="normal" textLength="8.82" lengthAdjust="spacingAndGlyphs"  stroke="#222" stroke-width="0.06">185.61%</text>
<path d="M250.2 288.16H251.5" stroke="#777" stroke-width="0.5"/>
<text x="250.5" y="304.62" font-size="3.2" text-anchor="end" fill="#222" font-weight="normal" textLength="8.82" lengthAdjust="spacingAndGlyphs"  stroke="#222" stroke-width="0.06">170.61%</text>
<path d="M250.2 303.52H251.5" stroke="#777" stroke-width="0.5"/>
<text x="250.5" y="319.98" font-size="3.2" text-anchor="end" fill="#222" font-weight="normal" textLength="8.82" lengthAdjust="spacingAndGlyphs"  stroke="#222" stroke-width="0.06">155.61%</text>
<path d="M250.2 318.88H251.5" stroke="#777" stroke-width="0.5"/>
<text x="250.5" y="335.34" font-size="3.2" text-anchor="end" fill="#222" font-weight="normal" textLength="8.82" lengthAdjust="spacingAndGlyphs"  stroke="#222" stroke-width="0.06">140.61%</text>
<path d="M250.2 334.24H251.5" stroke="#777" stroke-width="0.5"/>
<text x="250.5" y="350.7" font-size="3.2" text-anchor="end" fill="#222" font-weight="normal" textLength="8.82" lengthAdjust="spacingAndGlyphs"  stroke="#222" stroke-width="0.06">125.61%</text>
<path d="M250.2 349.6H251.5" stroke="#777" stroke-width="0.5"/>
<text x="250.5" y="366.06" font-size="3.2" text-anchor="end" fill="#222" font-weight="normal" textLength="8.82" lengthAdjust="spacingAndGlyphs"  stroke="#222" stroke-width="0.06">110.61%</text>
<path d="M250.2 364.96H251.5" stroke="#777" stroke-width="0.5"/>
<text x="250.5" y="381.42" font-size="3.2" text-anchor="end" fill="#222" font-weight="normal" textLength="7.56" lengthAdjust="spacingAndGlyphs"  stroke="#222" stroke-width="0.06">95.61%</text>
<path d="M250.2 380.32H251.5" stroke="#777" stroke-width="0.5"/>
<text x="250.5" y="396.78" font-size="3.2" text-anchor="end" fill="#222" font-weight="normal" textLength="7.56" lengthAdjust="spacingAndGlyphs"  stroke="#222" stroke-width="0.06">80.61%</text>
<path d="M250.2 395.68H251.5" stroke="#777" stroke-width="0.5"/>
<text x="250.5" y="412.14" font-size="3.2" text-anchor="end" fill="#222" font-weight="normal" textLength="7.56" lengthAdjust="spacingAndGlyphs"  stroke="#222" stroke-width="0.06">65.61%</text>
<path d="M250.2 411.04H251.5" stroke="#777" stroke-width="0.5"/>
<text x="250.5" y="427.5" font-size="3.2" text-anchor="end" fill="#222" font-weight="normal" textLength="7.56" lengthAdjust="spacingAndGlyphs"  stroke="#222" stroke-width="0.06">50.61%</text>
<path d="M250.2 426.4H251.5" stroke="#777" stroke-width="0.5"/>
<text x="250.5" y="442.86" font-size="3.2" text-anchor="end" fill="#222" font-weight="normal" textLength="7.56" lengthAdjust="spacingAndGlyphs"  stroke="#222" stroke-width="0.06">35.61%</text>
<path d="M250.2 441.76H251.5" stroke="#777" stroke-width="0.5"/>
<text x="251.5" y="447.05" font-size="3.2" text-anchor="middle" fill="#222" font-weight="normal" textLength="5.2" lengthAdjust="spacingAndGlyphs"  stroke="#222" stroke-width="0.06">1989</text>
<text x="264.05" y="447.05" font-size="3.2" text-anchor="middle" fill="#222" font-weight="normal" textLength="5.2" lengthAdjust="spacingAndGlyphs"  stroke="#222" stroke-width="0.06">1992</text>
<text x="276.59" y="447.05" font-size="3.2" text-anchor="middle" fill="#222" font-weight="normal" textLength="5.2" lengthAdjust="spacingAndGlyphs"  stroke="#222" stroke-width="0.06">1995</text>
<text x="289.14" y="447.05" font-size="3.2" text-anchor="middle" fill="#222" font-weight="normal" textLength="5.2" lengthAdjust="spacingAndGlyphs"  stroke="#222" stroke-width="0.06">1998</text>
<text x="301.68" y="447.05" font-size="3.2" text-anchor="middle" fill="#222" font-weight="normal" textLength="5.2" lengthAdjust="spacingAndGlyphs"  stroke="#222" stroke-width="0.06">2001</text>
<text x="314.23" y="447.05" font-size="3.2" text-anchor="middle" fill="#222" font-weight="normal" textLength="5.2" lengthAdjust="spacingAndGlyphs"  stroke="#222" stroke-width="0.06">2004</text>
<text x="326.77" y="447.05" font-size="3.2" text-anchor="middle" fill="#222" font-weight="normal" textLength="5.2" lengthAdjust="spacingAndGlyphs"  stroke="#222" stroke-width="0.06">2007</text>
<text x="339.32" y="447.05" font-size="3.2" text-anchor="middle" fill="#222" font-weight="normal" textLength="5.2" lengthAdjust="spacingAndGlyphs"  stroke="#222" stroke-width="0.06">2010</text>
<text x="351.86" y="447.05" font-size="3.2" text-anchor="middle" fill="#222" font-weight="normal" textLength="5.2" lengthAdjust="spacingAndGlyphs"  stroke="#222" stroke-width="0.06">2013</text>
<text x="364.41" y="447.05" font-size="3.2" text-anchor="middle" fill="#222" font-weight="normal" textLength="5.2" lengthAdjust="spacingAndGlyphs"  stroke="#222" stroke-width="0.06">2016</text>
<text x="376.95" y="447.05" font-size="3.2" text-anchor="middle" fill="#222" font-weight="normal" textLength="5.2" lengthAdjust="spacingAndGlyphs"  stroke="#222" stroke-width="0.06">2019</text>
<text x="389.5" y="447.05" font-size="3.2" text-anchor="middle" fill="#222" font-weight="normal" textLength="5.2" lengthAdjust="spacingAndGlyphs"  stroke="#222" stroke-width="0.06">2022</text>
<text x="320.6" y="453.7" font-size="3" text-anchor="middle" fill="#222" font-weight="bold" textLength="5.3" lengthAdjust="spacingAndGlyphs" >year</text>
<text x="341" y="250.2" font-size="3.5" text-anchor="middle" fill="#111" font-weight="bold" textLength="12.4" lengthAdjust="spacingAndGlyphs" >Unsafe sex</text>
<text x="0" y="0" font-size="2.7" font-weight="bold" text-anchor="middle" fill="#111" textLength="136.4" lengthAdjust="spacingAndGlyphs" transform="translate(236.3 347) rotate(-90)">Gender-specific BIP-related HIV/AIDS attributable to unsafe sex among people aged 20-54 years in Western Pacific Region</text>
<rect x="255.35" y="426.35" width="1.3" height="1.3" fill="#5ff0a8"/>
<rect x="326.35" y="370.35" width="1.3" height="1.3" fill="#5ff0a8"/>
<rect x="330.35" y="372.35" width="1.3" height="1.3" fill="#5ff0a8"/>
<rect x="334.35" y="373.85" width="1.3" height="1.3" fill="#5ff0a8"/>
<rect x="338.35" y="375.35" width="1.3" height="1.3" fill="#5ff0a8"/>
<rect x="342.35" y="376.85" width="1.3" height="1.3" fill="#5ff0a8"/>
<rect x="351.35" y="376.35" width="1.3" height="1.3" fill="#5ff0a8"/>
<rect x="355.35" y="373.35" width="1.3" height="1.3" fill="#5ff0a8"/>
<rect x="359.35" y="370.35" width="1.3" height="1.3" fill="#5ff0a8"/>
<rect x="368.35" y="366.95" width="1.3" height="1.3" fill="#5ff0a8"/>
<rect x="372.35" y="366.75" width="1.3" height="1.3" fill="#5ff0a8"/>
<rect x="380.35" y="368.85" width="1.3" height="1.3" fill="#5ff0a8"/>
<path d="M255 426.4C256.5 425.97 257.95 425.58 259.5 425.1C261.05 424.62 262.67 424.1 264.3 423.5C265.93 422.9 267.65 422.23 269.3 421.5C270.95 420.77 272.62 420.02 274.2 419.1C275.78 418.18 277.33 417.1 278.8 416C280.27 414.9 281.25 414.15 283 412.5C284.75 410.85 287.2 408.23 289.3 406.1C291.23 403.27 292.32 401.65 295.1 397.6C297.88 393.55 302.37 387.07 306 381.8L322.7 369.4L348 379.9L364.4 367.8L376.5 367.2L386 372" fill="none" stroke="#12f37a" stroke-width="2.1" stroke-linejoin="round" stroke-linecap="round"/>
<path d="M255 420.3C256.5 419.6 257.95 418.95 259.5 418.2C261.05 417.45 262.67 416.65 264.3 415.8C265.93 414.95 267.65 414.08 269.3 413.1C270.95 412.12 272.62 411.02 274.2 409.9C275.78 408.78 277.33 407.62 278.8 406.4C280.27 405.18 281.72 403.92 283 402.6C284.28 401.28 285.4 399.97 286.5 398.5C287.6 397.03 288.6 395.33 289.6 393.8C290.6 392.27 291.58 390.93 292.5 389.3C293.42 387.67 293.77 387.25 295.1 384C296.43 380.75 298.7 374.53 300.5 369.8C304.17 362.27 307.73 354.95 311.5 347.2C315.27 339.45 319.23 331.27 323.1 323.3L351.7 326.2L364.9 306.2L386 306.4" fill="none" stroke="#0505fa" stroke-width="2.0" stroke-linejoin="round" stroke-linecap="round"/>
<rect x="330.2" y="320.7" width="1.6" height="1.6" rx="0.3" fill="#2a2aff"/>
<rect x="334.6" y="322.1" width="1.6" height="1.6" rx="0.3" fill="#2a2aff"/>
<rect x="347.2" y="328" width="1.6" height="1.6" rx="0.3" fill="#2a2aff"/>
<rect x="359.7" y="308.9" width="1.6" height="1.6" rx="0.3" fill="#2a2aff"/>
<rect x="317.5" y="335.7" width="1.6" height="1.6" rx="0.3" fill="#2a2aff"/>
<rect x="255.2" y="419.2" width="1.6" height="1.6" rx="0.3" fill="#2a2aff"/>
<rect x="259.2" y="417.2" width="1.6" height="1.6" rx="0.3" fill="#2a2aff"/>
<rect x="263.2" y="415.2" width="1.6" height="1.6" rx="0.3" fill="#2a2aff"/>
<rect x="306.2" y="356.7" width="1.6" height="1.6" rx="0.3" fill="#2a2aff"/>
<rect x="288.3" y="392.4" width="1.6" height="1.6" rx="0.3" fill="#2a2aff"/>
<rect x="295.2" y="381.7" width="1.6" height="1.6" rx="0.3" fill="#2a2aff"/>
<rect x="368.2" y="305.7" width="1.6" height="1.6" rx="0.3" fill="#2a2aff"/>
<rect x="372.2" y="305.7" width="1.6" height="1.6" rx="0.3" fill="#2a2aff"/>
<rect x="376.2" y="306" width="1.6" height="1.6" rx="0.3" fill="#2a2aff"/>
<rect x="380.2" y="305.5" width="1.6" height="1.6" rx="0.3" fill="#2a2aff"/>
<text x="291.3" y="322.55" font-size="3.6" text-anchor="start" fill="#1a1a1a" font-weight="normal" textLength="30.3" lengthAdjust="spacingAndGlyphs"  stroke="#1a1a1a" stroke-width="0.08">Male - Joinpoint 2/4: 2006</text>
<text x="353" y="325.25" font-size="3.6" text-anchor="start" fill="#1a1a1a" font-weight="normal" textLength="30.8" lengthAdjust="spacingAndGlyphs"  stroke="#1a1a1a" stroke-width="0.08">Male - Joinpoint 3/4: 2013</text>
<text x="349.5" y="304.35" font-size="3.6" text-anchor="start" fill="#1a1a1a" font-weight="normal" textLength="30.7" lengthAdjust="spacingAndGlyphs"  stroke="#1a1a1a" stroke-width="0.08">Male - Joinpoint 4/4: 2016</text>
<text x="286.4" y="370.15" font-size="3.6" text-anchor="start" fill="#1a1a1a" font-weight="normal" textLength="30.8" lengthAdjust="spacingAndGlyphs"  stroke="#1a1a1a" stroke-width="0.08">Male - Joinpoint 1/4: 2001</text>
<text x="271.1" y="381.15" font-size="3.6" text-anchor="start" fill="#1a1a1a" font-weight="normal" textLength="34" lengthAdjust="spacingAndGlyphs"  stroke="#1a1a1a" stroke-width="0.08">Female - Joinpoint 2/6: 2002</text>
<text x="294.1" y="399.15" font-size="3.6" text-anchor="start" fill="#1a1a1a" font-weight="normal" textLength="34.1" lengthAdjust="spacingAndGlyphs"  stroke="#1a1a1a" stroke-width="0.08">Female - Joinpoint 1/6: 1998</text>
<text x="323.8" y="367.95" font-size="3.6" text-anchor="start" fill="#1a1a1a" font-weight="normal" textLength="34" lengthAdjust="spacingAndGlyphs"  stroke="#1a1a1a" stroke-width="0.08">Female - Joinpoint 3/6: 2006</text>
<text x="331" y="384.45" font-size="3.6" text-anchor="start" fill="#1a1a1a" font-weight="normal" textLength="33.9" lengthAdjust="spacingAndGlyphs"  stroke="#1a1a1a" stroke-width="0.08">Female - Joinpoint 4/6: 2012</text>
<text x="366.2" y="366.25" font-size="3.6" text-anchor="start" fill="#1a1a1a" font-weight="normal" textLength="33.8" lengthAdjust="spacingAndGlyphs"  stroke="#1a1a1a" stroke-width="0.08">Female - Joinpoint 6/6: 2019</text>
<rect x="407.4" y="258" width="43.2" height="47" fill="#fff" stroke="#e2e2e2" stroke-width="0.6"/>
<ellipse cx="411.6" cy="260.4" rx="0.8" ry="0.95" fill="#1010ee"/>
<text x="415.25" y="261.45" font-size="3.2" text-anchor="start" fill="#1a1a1a" font-weight="normal" textLength="20.33" lengthAdjust="spacingAndGlyphs" font-family="'Liberation Serif', serif" stroke="#1a1a1a" stroke-width="0.09">Male - 4 Joinpoints</text>
<path d="M409.1 263.62H414" stroke="#8f8fff" stroke-width="0.8"/>
<text x="415.25" y="264.67" font-size="3.2" text-anchor="start" fill="#1a1a1a" font-weight="normal" textLength="20.9" lengthAdjust="spacingAndGlyphs" font-family="'Liberation Serif', serif" stroke="#1a1a1a" stroke-width="0.09">1990.0-2001.0 APC</text>
<text x="437.6" y="264.67" font-size="3.2" text-anchor="start" fill="#1a1a1a" font-weight="normal" font-family="'Liberation Serif', serif" stroke="#1a1a1a" stroke-width="0.09">=</text>
<text x="447" y="264.67" font-size="3.2" text-anchor="end" fill="#1a1a1a" font-weight="normal" textLength="7.5" lengthAdjust="spacingAndGlyphs" font-family="'Liberation Serif', serif" stroke="#1a1a1a" stroke-width="0.09">17.62*</text>
<path d="M409.1 266.84H414" stroke="#9f9fff" stroke-width="0.8"/>
<text x="415.25" y="267.89" font-size="3.2" text-anchor="start" fill="#1a1a1a" font-weight="normal" textLength="20.9" lengthAdjust="spacingAndGlyphs" font-family="'Liberation Serif', serif" stroke="#1a1a1a" stroke-width="0.09">2001.0-2006.0 APC</text>
<text x="437.6" y="267.89" font-size="3.2" text-anchor="start" fill="#1a1a1a" font-weight="normal" font-family="'Liberation Serif', serif" stroke="#1a1a1a" stroke-width="0.09">=</text>
<text x="447" y="267.89" font-size="3.2" text-anchor="end" fill="#1a1a1a" font-weight="normal" textLength="7.5" lengthAdjust="spacingAndGlyphs" font-family="'Liberation Serif', serif" stroke="#1a1a1a" stroke-width="0.09">10.04*</text>
<path d="M409.1 270.06H414" stroke="#c8c8ff" stroke-width="0.8"/>
<text x="415.25" y="271.11" font-size="3.2" text-anchor="start" fill="#1a1a1a" font-weight="normal" textLength="20.9" lengthAdjust="spacingAndGlyphs" font-family="'Liberation Serif', serif" stroke="#1a1a1a" stroke-width="0.09">2006.0-2013.0 APC</text>
<text x="437.6" y="271.11" font-size="3.2" text-anchor="start" fill="#1a1a1a" font-weight="normal" font-family="'Liberation Serif', serif" stroke="#1a1a1a" stroke-width="0.09">=</text>
<text x="447" y="271.11" font-size="3.2" text-anchor="end" fill="#1a1a1a" font-weight="normal" textLength="6.25" lengthAdjust="spacingAndGlyphs" font-family="'Liberation Serif', serif" stroke="#1a1a1a" stroke-width="0.09">-0.30</text>
<path d="M409.1 273.28H414" stroke="#d0d0ff" stroke-width="0.8"/>
<text x="415.25" y="274.33" font-size="3.2" text-anchor="start" fill="#1a1a1a" font-weight="normal" textLength="20.9" lengthAdjust="spacingAndGlyphs" font-family="'Liberation Serif', serif" stroke="#1a1a1a" stroke-width="0.09">2013.0-2016.0 APC</text>
<text x="437.6" y="274.33" font-size="3.2" text-anchor="start" fill="#1a1a1a" font-weight="normal" font-family="'Liberation Serif', serif" stroke="#1a1a1a" stroke-width="0.09">=</text>
<text x="447" y="274.33" font-size="3.2" text-anchor="end" fill="#1a1a1a" font-weight="normal" textLength="6.25" lengthAdjust="spacingAndGlyphs" font-family="'Liberation Serif', serif" stroke="#1a1a1a" stroke-width="0.09">6.97*</text>
<path d="M409.1 276.5H414" stroke="#a0a0ff" stroke-width="0.8"/>
<text x="415.25" y="277.55" font-size="3.2" text-anchor="start" fill="#1a1a1a" font-weight="normal" textLength="20.9" lengthAdjust="spacingAndGlyphs" font-family="'Liberation Serif', serif" stroke="#1a1a1a" stroke-width="0.09">2016.0-2021.0 APC</text>
<text x="437.6" y="277.55" font-size="3.2" text-anchor="start" fill="#1a1a1a" font-weight="normal" font-family="'Liberation Serif', serif" stroke="#1a1a1a" stroke-width="0.09">=</text>
<text x="447" y="277.55" font-size="3.2" text-anchor="end" fill="#1a1a1a" font-weight="normal" textLength="6.25" lengthAdjust="spacingAndGlyphs" font-family="'Liberation Serif', serif" stroke="#1a1a1a" stroke-width="0.09">-0.11</text>
<ellipse cx="411.6" cy="279.72" rx="0.8" ry="0.95" fill="#33ee88"/>
<text x="415.25" y="280.77" font-size="3.2" text-anchor="start" fill="#1a1a1a" font-weight="normal" textLength="22.47" lengthAdjust="spacingAndGlyphs" font-family="'Liberation Serif', serif" stroke="#1a1a1a" stroke-width="0.09">Female - 6 Joinpoints</text>
<path d="M409.1 282.94H414" stroke="#a8f8cc" stroke-width="0.8"/>
<text x="415.25" y="283.99" font-size="3.2" text-anchor="start" fill="#1a1a1a" font-weight="normal" textLength="20.9" lengthAdjust="spacingAndGlyphs" font-family="'Liberation Serif', serif" stroke="#1a1a1a" stroke-width="0.09">1990.0-1998.0 APC</text>
<text x="437.6" y="283.99" font-size="3.2" text-anchor="start" fill="#1a1a1a" font-weight="normal" font-family="'Liberation Serif', serif" stroke="#1a1a1a" stroke-width="0.09">=</text>
<text x="447" y="283.99" font-size="3.2" text-anchor="end" fill="#1a1a1a" font-weight="normal" textLength="7.5" lengthAdjust="spacingAndGlyphs" font-family="'Liberation Serif', serif" stroke="#1a1a1a" stroke-width="0.09">13.19*</text>
<path d="M409.1 286.16H414" stroke="#d0ffe6" stroke-width="0.8"/>
<text x="415.25" y="287.21" font-size="3.2" text-anchor="start" fill="#1a1a1a" font-weight="normal" textLength="20.9" lengthAdjust="spacingAndGlyphs" font-family="'Liberation Serif', serif" stroke="#1a1a1a" stroke-width="0.09">1998.0-2002.0 APC</text>
<text x="437.6" y="287.21" font-size="3.2" text-anchor="start" fill="#1a1a1a" font-weight="normal" font-family="'Liberation Serif', serif" stroke="#1a1a1a" stroke-width="0.09">=</text>
<text x="447" y="287.21" font-size="3.2" text-anchor="end" fill="#1a1a1a" font-weight="normal" textLength="7.5" lengthAdjust="spacingAndGlyphs" font-family="'Liberation Serif', serif" stroke="#1a1a1a" stroke-width="0.09">16.03*</text>
<path d="M409.1 289.38H414" stroke="#a8f8cc" stroke-width="0.8"/>
<text x="415.25" y="290.43" font-size="3.2" text-anchor="start" fill="#1a1a1a" font-weight="normal" textLength="20.9" lengthAdjust="spacingAndGlyphs" font-family="'Liberation Serif', serif" stroke="#1a1a1a" stroke-width="0.09">2002.0-2006.0 APC</text>
<text x="437.6" y="290.43" font-size="3.2" text-anchor="start" fill="#1a1a1a" font-weight="normal" font-family="'Liberation Serif', serif" stroke="#1a1a1a" stroke-width="0.09">=</text>
<text x="447" y="290.43" font-size="3.2" text-anchor="end" fill="#1a1a1a" font-weight="normal" textLength="6.25" lengthAdjust="spacingAndGlyphs" font-family="'Liberation Serif', serif" stroke="#1a1a1a" stroke-width="0.09">5.42*</text>
<path d="M409.1 292.6H414" stroke="#7ff0b0" stroke-width="0.8"/>
<text x="415.25" y="293.65" font-size="3.2" text-anchor="start" fill="#1a1a1a" font-weight="normal" textLength="20.9" lengthAdjust="spacingAndGlyphs" font-family="'Liberation Serif', serif" stroke="#1a1a1a" stroke-width="0.09">2006.0-2012.0 APC</text>
<text x="437.6" y="293.65" font-size="3.2" text-anchor="start" fill="#1a1a1a" font-weight="normal" font-family="'Liberation Serif', serif" stroke="#1a1a1a" stroke-width="0.09">=</text>
<text x="447" y="293.65" font-size="3.2" text-anchor="end" fill="#1a1a1a" font-weight="normal" textLength="7.5" lengthAdjust="spacingAndGlyphs" font-family="'Liberation Serif', serif" stroke="#1a1a1a" stroke-width="0.09">-3.28*</text>
<path d="M409.1 295.82H414" stroke="#8ff2bc" stroke-width="0.8"/>
<text x="415.25" y="296.87" font-size="3.2" text-anchor="start" fill="#1a1a1a" font-weight="normal" textLength="20.9" lengthAdjust="spacingAndGlyphs" font-family="'Liberation Serif', serif" stroke="#1a1a1a" stroke-width="0.09">2012.0-2016.0 APC</text>
<text x="437.6" y="296.87" font-size="3.2" text-anchor="start" fill="#1a1a1a" font-weight="normal" font-family="'Liberation Serif', serif" stroke="#1a1a1a" stroke-width="0.09">=</text>
<text x="447" y="296.87" font-size="3.2" text-anchor="end" fill="#1a1a1a" font-weight="normal" textLength="6.25" lengthAdjust="spacingAndGlyphs" font-family="'Liberation Serif', serif" stroke="#1a1a1a" stroke-width="0.09">5.66*</text>
<path d="M409.1 299.04H414" stroke="#a8f8cc" stroke-width="0.8"/>
<text x="415.25" y="300.09" font-size="3.2" text-anchor="start" fill="#1a1a1a" font-weight="normal" textLength="20.9" lengthAdjust="spacingAndGlyphs" font-family="'Liberation Serif', serif" stroke="#1a1a1a" stroke-width="0.09">2016.0-2019.0 APC</text>
<text x="437.6" y="300.09" font-size="3.2" text-anchor="start" fill="#1a1a1a" font-weight="normal" font-family="'Liberation Serif', serif" stroke="#1a1a1a" stroke-width="0.09">=</text>
<text x="447" y="300.09" font-size="3.2" text-anchor="end" fill="#1a1a1a" font-weight="normal" textLength="5" lengthAdjust="spacingAndGlyphs" font-family="'Liberation Serif', serif" stroke="#1a1a1a" stroke-width="0.09">0.35</text>
<path d="M409.1 302.26H414" stroke="#d0ffe6" stroke-width="0.8"/>
<text x="415.25" y="303.31" font-size="3.2" text-anchor="start" fill="#1a1a1a" font-weight="normal" textLength="20.9" lengthAdjust="spacingAndGlyphs" font-family="'Liberation Serif', serif" stroke="#1a1a1a" stroke-width="0.09">2019.0-2021.0 APC</text>
<text x="437.6" y="303.31" font-size="3.2" text-anchor="start" fill="#1a1a1a" font-weight="normal" font-family="'Liberation Serif', serif" stroke="#1a1a1a" stroke-width="0.09">=</text>
<text x="447" y="303.31" font-size="3.2" text-anchor="end" fill="#1a1a1a" font-weight="normal" textLength="7.5" lengthAdjust="spacingAndGlyphs" font-family="'Liberation Serif', serif" stroke="#1a1a1a" stroke-width="0.09">-2.56*</text>
<path d="M497.05 259.5V441.3M509.59 259.5V441.3M522.14 259.5V441.3M534.68 259.5V441.3M547.23 259.5V441.3M559.77 259.5V441.3M572.32 259.5V441.3M584.86 259.5V441.3M597.41 259.5V441.3M609.95 259.5V441.3M485.5 271.7H621.5M485.5 287.16H621.5M485.5 302.62H621.5M485.5 318.08H621.5M485.5 333.54H621.5M485.5 349H621.5M485.5 364.46H621.5M485.5 379.92H621.5M485.5 395.38H621.5M485.5 410.84H621.5M485.5 426.3H621.5" stroke="#f4f4f4" stroke-width="0.6" fill="none"/>
<path d="M484.5 258.5H622.5V442.3" stroke="#b4b4b4" stroke-width="1" fill="none"/>
<path d="M484.5 258.5V442.3H623" stroke="#8a8a8a" stroke-width="1.1" fill="none"/>
<text x="483.5" y="272.8" font-size="3.2" text-anchor="end" fill="#222" font-weight="normal" textLength="8.82" lengthAdjust="spacingAndGlyphs"  stroke="#222" stroke-width="0.06">140.44%</text>
<path d="M483.2 271.7H484.5" stroke="#777" stroke-width="0.5"/>
<text x="483.5" y="288.26" font-size="3.2" text-anchor="end" fill="#222" font-weight="normal" textLength="8.82" lengthAdjust="spacingAndGlyphs"  stroke="#222" stroke-width="0.06">125.44%</text>
<path d="M483.2 287.16H484.5" stroke="#777" stroke-width="0.5"/>
<text x="483.5" y="303.72" font-size="3.2" text-anchor="end" fill="#222" font-weight="normal" textLength="8.82" lengthAdjust="spacingAndGlyphs"  stroke="#222" stroke-width="0.06">110.44%</text>
<path d="M483.2 302.62H484.5" stroke="#777" stroke-width="0.5"/>
<text x="483.5" y="319.18" font-size="3.2" text-anchor="end" fill="#222" font-weight="normal" textLength="7.56" lengthAdjust="spacingAndGlyphs"  stroke="#222" stroke-width="0.06">95.44%</text>
<path d="M483.2 318.08H484.5" stroke="#777" stroke-width="0.5"/>
<text x="483.5" y="334.64" font-size="3.2" text-anchor="end" fill="#222" font-weight="normal" textLength="7.56" lengthAdjust="spacingAndGlyphs"  stroke="#222" stroke-width="0.06">80.44%</text>
<path d="M483.2 333.54H484.5" stroke="#777" stroke-width="0.5"/>
<text x="483.5" y="350.1" font-size="3.2" text-anchor="end" fill="#222" font-weight="normal" textLength="7.56" lengthAdjust="spacingAndGlyphs"  stroke="#222" stroke-width="0.06">65.44%</text>
<path d="M483.2 349H484.5" stroke="#777" stroke-width="0.5"/>
<text x="483.5" y="365.56" font-size="3.2" text-anchor="end" fill="#222" font-weight="normal" textLength="7.56" lengthAdjust="spacingAndGlyphs"  stroke="#222" stroke-width="0.06">50.44%</text>
<path d="M483.2 364.46H484.5" stroke="#777" stroke-width="0.5"/>
<text x="483.5" y="381.02" font-size="3.2" text-anchor="end" fill="#222" font-weight="normal" textLength="7.56" lengthAdjust="spacingAndGlyphs"  stroke="#222" stroke-width="0.06">35.44%</text>
<path d="M483.2 379.92H484.5" stroke="#777" stroke-width="0.5"/>
<text x="483.5" y="396.48" font-size="3.2" text-anchor="end" fill="#222" font-weight="normal" textLength="7.56" lengthAdjust="spacingAndGlyphs"  stroke="#222" stroke-width="0.06">20.44%</text>
<path d="M483.2 395.38H484.5" stroke="#777" stroke-width="0.5"/>
<text x="483.5" y="411.94" font-size="3.2" text-anchor="end" fill="#222" font-weight="normal" textLength="6.3" lengthAdjust="spacingAndGlyphs"  stroke="#222" stroke-width="0.06">5.44%</text>
<path d="M483.2 410.84H484.5" stroke="#777" stroke-width="0.5"/>
<text x="483.5" y="427.4" font-size="3.2" text-anchor="end" fill="#222" font-weight="normal" textLength="7.56" lengthAdjust="spacingAndGlyphs"  stroke="#222" stroke-width="0.06">-9.56%</text>
<path d="M483.2 426.3H484.5" stroke="#777" stroke-width="0.5"/>
<text x="483.5" y="442.86" font-size="3.2" text-anchor="end" fill="#222" font-weight="normal" textLength="8.82" lengthAdjust="spacingAndGlyphs"  stroke="#222" stroke-width="0.06">-24.56%</text>
<path d="M483.2 441.76H484.5" stroke="#777" stroke-width="0.5"/>
<text x="484.5" y="447.05" font-size="3.2" text-anchor="middle" fill="#222" font-weight="normal" textLength="5.2" lengthAdjust="spacingAndGlyphs"  stroke="#222" stroke-width="0.06">1989</text>
<text x="497.05" y="447.05" font-size="3.2" text-anchor="middle" fill="#222" font-weight="normal" textLength="5.2" lengthAdjust="spacingAndGlyphs"  stroke="#222" stroke-width="0.06">1992</text>
<text x="509.59" y="447.05" font-size="3.2" text-anchor="middle" fill="#222" font-weight="normal" textLength="5.2" lengthAdjust="spacingAndGlyphs"  stroke="#222" stroke-width="0.06">1995</text>
<text x="522.14" y="447.05" font-size="3.2" text-anchor="middle" fill="#222" font-weight="normal" textLength="5.2" lengthAdjust="spacingAndGlyphs"  stroke="#222" stroke-width="0.06">1998</text>
<text x="534.68" y="447.05" font-size="3.2" text-anchor="middle" fill="#222" font-weight="normal" textLength="5.2" lengthAdjust="spacingAndGlyphs"  stroke="#222" stroke-width="0.06">2001</text>
<text x="547.23" y="447.05" font-size="3.2" text-anchor="middle" fill="#222" font-weight="normal" textLength="5.2" lengthAdjust="spacingAndGlyphs"  stroke="#222" stroke-width="0.06">2004</text>
<text x="559.77" y="447.05" font-size="3.2" text-anchor="middle" fill="#222" font-weight="normal" textLength="5.2" lengthAdjust="spacingAndGlyphs"  stroke="#222" stroke-width="0.06">2007</text>
<text x="572.32" y="447.05" font-size="3.2" text-anchor="middle" fill="#222" font-weight="normal" textLength="5.2" lengthAdjust="spacingAndGlyphs"  stroke="#222" stroke-width="0.06">2010</text>
<text x="584.86" y="447.05" font-size="3.2" text-anchor="middle" fill="#222" font-weight="normal" textLength="5.2" lengthAdjust="spacingAndGlyphs"  stroke="#222" stroke-width="0.06">2013</text>
<text x="597.41" y="447.05" font-size="3.2" text-anchor="middle" fill="#222" font-weight="normal" textLength="5.2" lengthAdjust="spacingAndGlyphs"  stroke="#222" stroke-width="0.06">2016</text>
<text x="609.95" y="447.05" font-size="3.2" text-anchor="middle" fill="#222" font-weight="normal" textLength="5.2" lengthAdjust="spacingAndGlyphs"  stroke="#222" stroke-width="0.06">2019</text>
<text x="622.5" y="447.05" font-size="3.2" text-anchor="middle" fill="#222" font-weight="normal" textLength="5.2" lengthAdjust="spacingAndGlyphs"  stroke="#222" stroke-width="0.06">2022</text>
<text x="553.5" y="453.7" font-size="3" text-anchor="middle" fill="#222" font-weight="bold" textLength="5.3" lengthAdjust="spacingAndGlyphs" >year</text>
<text x="574.5" y="250.2" font-size="3.5" text-anchor="middle" fill="#111" font-weight="bold" textLength="11.2" lengthAdjust="spacingAndGlyphs" >Drug use</text>
<text x="0" y="0" font-size="2.7" font-weight="bold" text-anchor="middle" fill="#111" textLength="135" lengthAdjust="spacingAndGlyphs" transform="translate(469.7 347.3) rotate(-90)">Gender-specific BIP-related HIV/AIDS attributable to drug use among people aged 20-54 years in Western Pacific Region</text>
<rect x="491.35" y="426.75" width="1.3" height="1.3" fill="#5ff0a8"/>
<rect x="539.35" y="418.85" width="1.3" height="1.3" fill="#5ff0a8"/>
<rect x="559.35" y="417.85" width="1.3" height="1.3" fill="#5ff0a8"/>
<rect x="574.35" y="418.15" width="1.3" height="1.3" fill="#5ff0a8"/>
<rect x="600.35" y="417.65" width="1.3" height="1.3" fill="#5ff0a8"/>
<rect x="613.35" y="418.95" width="1.3" height="1.3" fill="#5ff0a8"/>
<path d="M488.6 426.6C491.4 426.5 494 426.48 497 426.3C500 426.12 503.77 425.83 506.6 425.5C509.43 425.17 511.43 424.78 514 424.3C516.57 423.82 519.67 423.1 522 422.6C524.33 422.1 525.98 421.73 528 421.3C530.02 420.87 531.43 420.42 534.1 420C536.77 419.58 540.52 419.1 544 418.8C547.48 418.5 550.67 418.23 555 418.2C559.33 418.17 564.87 418.38 570 418.6C575.13 418.82 582.3 419.45 585.8 419.5C589.3 419.55 588.98 419.12 591 418.9C593.02 418.68 594.73 418.2 597.9 418.2C601.07 418.2 606.6 418.53 610 418.9C613.4 419.27 615.53 419.9 618.3 420.4" fill="none" stroke="#12f37a" stroke-width="2.1" stroke-linejoin="round" stroke-linecap="round"/>
<path d="M488.6 419.5C490.4 418.53 492.1 417.7 494 416.6C495.9 415.5 498.08 414.3 500 412.9C501.92 411.5 503.67 409.95 505.5 408.2C507.33 406.45 509.33 404.52 511 402.4C512.67 400.28 514.03 398.07 515.5 395.5C516.97 392.93 518.58 389.48 519.8 387C521.02 384.52 521.88 382.8 522.8 380.6C523.72 378.4 524.08 377.03 525.3 373.8C526.52 370.57 528.5 365.4 530.1 361.2L551.2 322.3L568.2 315.7L580.3 330.6L592.8 311.3L618.3 323.8" fill="none" stroke="#0505fa" stroke-width="2.0" stroke-linejoin="round" stroke-linecap="round"/>
<rect x="555.3" y="318.6" width="1.6" height="1.6" rx="0.3" fill="#2a2aff"/>
<rect x="563" y="315.3" width="1.6" height="1.6" rx="0.3" fill="#2a2aff"/>
<rect x="583.9" y="328.1" width="1.6" height="1.6" rx="0.3" fill="#2a2aff"/>
<rect x="588.3" y="319.7" width="1.6" height="1.6" rx="0.3" fill="#2a2aff"/>
<rect x="596.4" y="311.6" width="1.6" height="1.6" rx="0.3" fill="#2a2aff"/>
<rect x="604.8" y="316" width="1.6" height="1.6" rx="0.3" fill="#2a2aff"/>
<rect x="609.2" y="316.6" width="1.6" height="1.6" rx="0.3" fill="#2a2aff"/>
<rect x="617.3" y="330.7" width="1.6" height="1.6" rx="0.3" fill="#2a2aff"/>
<rect x="538.3" y="345" width="1.6" height="1.6" rx="0.3" fill="#2a2aff"/>
<rect x="488.2" y="419.2" width="1.6" height="1.6" rx="0.3" fill="#2a2aff"/>
<rect x="492.6" y="417" width="1.6" height="1.6" rx="0.3" fill="#2a2aff"/>
<rect x="504.7" y="406.4" width="1.6" height="1.6" rx="0.3" fill="#2a2aff"/>
<rect x="529.2" y="359.7" width="1.6" height="1.6" rx="0.3" fill="#2a2aff"/>
<rect x="546.2" y="329.2" width="1.6" height="1.6" rx="0.3" fill="#2a2aff"/>
<rect x="571.2" y="319.2" width="1.6" height="1.6" rx="0.3" fill="#2a2aff"/>
<rect x="575.2" y="324.2" width="1.6" height="1.6" rx="0.3" fill="#2a2aff"/>
<rect x="600.2" y="313.7" width="1.6" height="1.6" rx="0.3" fill="#2a2aff"/>
<text x="552.8" y="314.05" font-size="3.6" text-anchor="start" fill="#1a1a1a" font-weight="normal" textLength="30.8" lengthAdjust="spacingAndGlyphs"  stroke="#1a1a1a" stroke-width="0.08">Male - Joinpoint 3/5: 2009</text>
<text x="519.8" y="321.35" font-size="3.6" text-anchor="start" fill="#1a1a1a" font-weight="normal" textLength="30.8" lengthAdjust="spacingAndGlyphs"  stroke="#1a1a1a" stroke-width="0.08">Male - Joinpoint 2/5: 2005</text>
<text x="578.1" y="309.85" font-size="3.6" text-anchor="start" fill="#1a1a1a" font-weight="normal" textLength="30.8" lengthAdjust="spacingAndGlyphs"  stroke="#1a1a1a" stroke-width="0.08">Male - Joinpoint 5/5: 2016</text>
<text x="565.3" y="335.15" font-size="3.6" text-anchor="start" fill="#1a1a1a" font-weight="normal" textLength="30.8" lengthAdjust="spacingAndGlyphs"  stroke="#1a1a1a" stroke-width="0.08">Male - Joinpoint 4/5: 2013</text>
<text x="515.4" y="359.65" font-size="3.6" text-anchor="start" fill="#1a1a1a" font-weight="normal" textLength="30.3" lengthAdjust="spacingAndGlyphs"  stroke="#1a1a1a" stroke-width="0.08">Male - Joinpoint 1/5: 2001</text>
<text x="500" y="419.05" font-size="3.6" text-anchor="start" fill="#1a1a1a" font-weight="normal" textLength="34.1" lengthAdjust="spacingAndGlyphs"  stroke="#1a1a1a" stroke-width="0.08">Female - Joinpoint 2/6: 2001</text>
<text x="523.1" y="426.75" font-size="3.6" text-anchor="start" fill="#1a1a1a" font-weight="normal" textLength="33.6" lengthAdjust="spacingAndGlyphs"  stroke="#1a1a1a" stroke-width="0.08">Female - Joinpoint 1/6: 1998</text>
<text x="539.1" y="416.35" font-size="3.6" text-anchor="start" fill="#1a1a1a" font-weight="normal" textLength="33.9" lengthAdjust="spacingAndGlyphs"  stroke="#1a1a1a" stroke-width="0.08">Female - Joinpoint 3/6: 2005</text>
<text x="568.2" y="422.95" font-size="3.6" text-anchor="start" fill="#1a1a1a" font-weight="normal" textLength="33.4" lengthAdjust="spacingAndGlyphs"  stroke="#1a1a1a" stroke-width="0.08">Female - Joinpoint 4/6: 2013</text>
<text x="580.3" y="416.35" font-size="3.6" text-anchor="start" fill="#1a1a1a" font-weight="normal" textLength="33.6" lengthAdjust="spacingAndGlyphs"  stroke="#1a1a1a" stroke-width="0.08">Female - Joinpoint 6/6: 2018</text>
<rect x="640.4" y="258.2" width="44.2" height="49.8" fill="#fff" stroke="#e2e2e2" stroke-width="0.6"/>
<ellipse cx="644.6" cy="260.6" rx="0.8" ry="0.95" fill="#1010ee"/>
<text x="648.25" y="261.65" font-size="3.2" text-anchor="start" fill="#1a1a1a" font-weight="normal" textLength="20.33" lengthAdjust="spacingAndGlyphs" font-family="'Liberation Serif', serif" stroke="#1a1a1a" stroke-width="0.09">Male - 5 Joinpoints</text>
<path d="M642.1 263.82H647" stroke="#8f8fff" stroke-width="0.8"/>
<text x="648.25" y="264.87" font-size="3.2" text-anchor="start" fill="#1a1a1a" font-weight="normal" textLength="20.9" lengthAdjust="spacingAndGlyphs" font-family="'Liberation Serif', serif" stroke="#1a1a1a" stroke-width="0.09">1990.0-2001.0 APC</text>
<text x="670.6" y="264.87" font-size="3.2" text-anchor="start" fill="#1a1a1a" font-weight="normal" font-family="'Liberation Serif', serif" stroke="#1a1a1a" stroke-width="0.09">=</text>
<text x="680" y="264.87" font-size="3.2" text-anchor="end" fill="#1a1a1a" font-weight="normal" textLength="7.5" lengthAdjust="spacingAndGlyphs" font-family="'Liberation Serif', serif" stroke="#1a1a1a" stroke-width="0.09">22.99*</text>
<path d="M642.1 267.04H647" stroke="#9f9fff" stroke-width="0.8"/>
<text x="648.25" y="268.09" font-size="3.2" text-anchor="start" fill="#1a1a1a" font-weight="normal" textLength="20.9" lengthAdjust="spacingAndGlyphs" font-family="'Liberation Serif', serif" stroke="#1a1a1a" stroke-width="0.09">2001.0-2005.0 APC</text>
<text x="670.6" y="268.09" font-size="3.2" text-anchor="start" fill="#1a1a1a" font-weight="normal" font-family="'Liberation Serif', serif" stroke="#1a1a1a" stroke-width="0.09">=</text>
<text x="680" y="268.09" font-size="3.2" text-anchor="end" fill="#1a1a1a" font-weight="normal" textLength="6.25" lengthAdjust="spacingAndGlyphs" font-family="'Liberation Serif', serif" stroke="#1a1a1a" stroke-width="0.09">9.60*</text>
<path d="M642.1 270.26H647" stroke="#c8c8ff" stroke-width="0.8"/>
<text x="648.25" y="271.31" font-size="3.2" text-anchor="start" fill="#1a1a1a" font-weight="normal" textLength="20.9" lengthAdjust="spacingAndGlyphs" font-family="'Liberation Serif', serif" stroke="#1a1a1a" stroke-width="0.09">2005.0-2009.0 APC</text>
<text x="670.6" y="271.31" font-size="3.2" text-anchor="start" fill="#1a1a1a" font-weight="normal" font-family="'Liberation Serif', serif" stroke="#1a1a1a" stroke-width="0.09">=</text>
<text x="680" y="271.31" font-size="3.2" text-anchor="end" fill="#1a1a1a" font-weight="normal" textLength="5" lengthAdjust="spacingAndGlyphs" font-family="'Liberation Serif', serif" stroke="#1a1a1a" stroke-width="0.09">1.54</text>
<path d="M642.1 273.48H647" stroke="#d0d0ff" stroke-width="0.8"/>
<text x="648.25" y="274.53" font-size="3.2" text-anchor="start" fill="#1a1a1a" font-weight="normal" textLength="20.9" lengthAdjust="spacingAndGlyphs" font-family="'Liberation Serif', serif" stroke="#1a1a1a" stroke-width="0.09">2009.0-2013.0 APC</text>
<text x="670.6" y="274.53" font-size="3.2" text-anchor="start" fill="#1a1a1a" font-weight="normal" font-family="'Liberation Serif', serif" stroke="#1a1a1a" stroke-width="0.09">=</text>
<text x="680" y="274.53" font-size="3.2" text-anchor="end" fill="#1a1a1a" font-weight="normal" textLength="7.5" lengthAdjust="spacingAndGlyphs" font-family="'Liberation Serif', serif" stroke="#1a1a1a" stroke-width="0.09">-4.64*</text>
<path d="M642.1 276.7H647" stroke="#a0a0ff" stroke-width="0.8"/>
<text x="648.25" y="277.75" font-size="3.2" text-anchor="start" fill="#1a1a1a" font-weight="normal" textLength="20.9" lengthAdjust="spacingAndGlyphs" font-family="'Liberation Serif', serif" stroke="#1a1a1a" stroke-width="0.09">2013.0-2016.0 APC</text>
<text x="670.6" y="277.75" font-size="3.2" text-anchor="start" fill="#1a1a1a" font-weight="normal" font-family="'Liberation Serif', serif" stroke="#1a1a1a" stroke-width="0.09">=</text>
<text x="680" y="277.75" font-size="3.2" text-anchor="end" fill="#1a1a1a" font-weight="normal" textLength="6.25" lengthAdjust="spacingAndGlyphs" font-family="'Liberation Serif', serif" stroke="#1a1a1a" stroke-width="0.09">6.49*</text>
<path d="M642.1 279.92H647" stroke="#9f9fff" stroke-width="0.8"/>
<text x="648.25" y="280.97" font-size="3.2" text-anchor="start" fill="#1a1a1a" font-weight="normal" textLength="20.9" lengthAdjust="spacingAndGlyphs" font-family="'Liberation Serif', serif" stroke="#1a1a1a" stroke-width="0.09">2016.0-2021.0 APC</text>
<text x="670.6" y="280.97" font-size="3.2" text-anchor="start" fill="#1a1a1a" font-weight="normal" font-family="'Liberation Serif', serif" stroke="#1a1a1a" stroke-width="0.09">=</text>
<text x="680" y="280.97" font-size="3.2" text-anchor="end" fill="#1a1a1a" font-weight="normal" textLength="7.5" lengthAdjust="spacingAndGlyphs" font-family="'Liberation Serif', serif" stroke="#1a1a1a" stroke-width="0.09">-3.03*</text>
<ellipse cx="644.6" cy="283.14" rx="0.8" ry="0.95" fill="#33ee88"/>
<text x="648.25" y="284.19" font-size="3.2" text-anchor="start" fill="#1a1a1a" font-weight="normal" textLength="22.47" lengthAdjust="spacingAndGlyphs" font-family="'Liberation Serif', serif" stroke="#1a1a1a" stroke-width="0.09">Female - 6 Joinpoints</text>
<path d="M642.1 286.36H647" stroke="#d0ffe6" stroke-width="0.8"/>
<text x="648.25" y="287.41" font-size="3.2" text-anchor="start" fill="#1a1a1a" font-weight="normal" textLength="20.9" lengthAdjust="spacingAndGlyphs" font-family="'Liberation Serif', serif" stroke="#1a1a1a" stroke-width="0.09">1990.0-1998.0 APC</text>
<text x="670.6" y="287.41" font-size="3.2" text-anchor="start" fill="#1a1a1a" font-weight="normal" font-family="'Liberation Serif', serif" stroke="#1a1a1a" stroke-width="0.09">=</text>
<text x="680" y="287.41" font-size="3.2" text-anchor="end" fill="#1a1a1a" font-weight="normal" textLength="7.5" lengthAdjust="spacingAndGlyphs" font-family="'Liberation Serif', serif" stroke="#1a1a1a" stroke-width="0.09">13.48*</text>
<path d="M642.1 289.58H647" stroke="#c8ffe0" stroke-width="0.8"/>
<text x="648.25" y="290.63" font-size="3.2" text-anchor="start" fill="#1a1a1a" font-weight="normal" textLength="20.9" lengthAdjust="spacingAndGlyphs" font-family="'Liberation Serif', serif" stroke="#1a1a1a" stroke-width="0.09">1998.0-2001.0 APC</text>
<text x="670.6" y="290.63" font-size="3.2" text-anchor="start" fill="#1a1a1a" font-weight="normal" font-family="'Liberation Serif', serif" stroke="#1a1a1a" stroke-width="0.09">=</text>
<text x="680" y="290.63" font-size="3.2" text-anchor="end" fill="#1a1a1a" font-weight="normal" textLength="7.5" lengthAdjust="spacingAndGlyphs" font-family="'Liberation Serif', serif" stroke="#1a1a1a" stroke-width="0.09">24.54*</text>
<path d="M642.1 292.8H647" stroke="#8ff2bc" stroke-width="0.8"/>
<text x="648.25" y="293.85" font-size="3.2" text-anchor="start" fill="#1a1a1a" font-weight="normal" textLength="20.9" lengthAdjust="spacingAndGlyphs" font-family="'Liberation Serif', serif" stroke="#1a1a1a" stroke-width="0.09">2001.0-2005.0 APC</text>
<text x="670.6" y="293.85" font-size="3.2" text-anchor="start" fill="#1a1a1a" font-weight="normal" font-family="'Liberation Serif', serif" stroke="#1a1a1a" stroke-width="0.09">=</text>
<text x="680" y="293.85" font-size="3.2" text-anchor="end" fill="#1a1a1a" font-weight="normal" textLength="6.25" lengthAdjust="spacingAndGlyphs" font-family="'Liberation Serif', serif" stroke="#1a1a1a" stroke-width="0.09">6.52*</text>
<path d="M642.1 296.02H647" stroke="#7ff0b0" stroke-width="0.8"/>
<text x="648.25" y="297.07" font-size="3.2" text-anchor="start" fill="#1a1a1a" font-weight="normal" textLength="20.9" lengthAdjust="spacingAndGlyphs" font-family="'Liberation Serif', serif" stroke="#1a1a1a" stroke-width="0.09">2005.0-2013.0 APC</text>
<text x="670.6" y="297.07" font-size="3.2" text-anchor="start" fill="#1a1a1a" font-weight="normal" font-family="'Liberation Serif', serif" stroke="#1a1a1a" stroke-width="0.09">=</text>
<text x="680" y="297.07" font-size="3.2" text-anchor="end" fill="#1a1a1a" font-weight="normal" textLength="7.5" lengthAdjust="spacingAndGlyphs" font-family="'Liberation Serif', serif" stroke="#1a1a1a" stroke-width="0.09">-3.39*</text>
<path d="M642.1 299.24H647" stroke="#a8f8cc" stroke-width="0.8"/>
<text x="648.25" y="300.29" font-size="3.2" text-anchor="start" fill="#1a1a1a" font-weight="normal" textLength="20.9" lengthAdjust="spacingAndGlyphs" font-family="'Liberation Serif', serif" stroke="#1a1a1a" stroke-width="0.09">2013.0-2018.0 APC</text>
<text x="670.6" y="300.29" font-size="3.2" text-anchor="start" fill="#1a1a1a" font-weight="normal" font-family="'Liberation Serif', serif" stroke="#1a1a1a" stroke-width="0.09">=</text>
<text x="680" y="300.29" font-size="3.2" text-anchor="end" fill="#1a1a1a" font-weight="normal" textLength="6.25" lengthAdjust="spacingAndGlyphs" font-family="'Liberation Serif', serif" stroke="#1a1a1a" stroke-width="0.09">4.74*</text>
<path d="M642.1 302.46H647" stroke="#d0ffe6" stroke-width="0.8"/>
<text x="648.25" y="303.51" font-size="3.2" text-anchor="start" fill="#1a1a1a" font-weight="normal" textLength="20.9" lengthAdjust="spacingAndGlyphs" font-family="'Liberation Serif', serif" stroke="#1a1a1a" stroke-width="0.09">2018.0-2019.0 APC</text>
<text x="670.6" y="303.51" font-size="3.2" text-anchor="start" fill="#1a1a1a" font-weight="normal" font-family="'Liberation Serif', serif" stroke="#1a1a1a" stroke-width="0.09">=</text>
<text x="680" y="303.51" font-size="3.2" text-anchor="end" fill="#1a1a1a" font-weight="normal" textLength="6.25" lengthAdjust="spacingAndGlyphs" font-family="'Liberation Serif', serif" stroke="#1a1a1a" stroke-width="0.09">-0.73</text>
<path d="M642.1 305.68H647" stroke="#8ff2bc" stroke-width="0.8"/>
<text x="648.25" y="306.73" font-size="3.2" text-anchor="start" fill="#1a1a1a" font-weight="normal" textLength="20.9" lengthAdjust="spacingAndGlyphs" font-family="'Liberation Serif', serif" stroke="#1a1a1a" stroke-width="0.09">2019.0-2021.0 APC</text>
<text x="670.6" y="306.73" font-size="3.2" text-anchor="start" fill="#1a1a1a" font-weight="normal" font-family="'Liberation Serif', serif" stroke="#1a1a1a" stroke-width="0.09">=</text>
<text x="680" y="306.73" font-size="3.2" text-anchor="end" fill="#1a1a1a" font-weight="normal" textLength="8.75" lengthAdjust="spacingAndGlyphs" font-family="'Liberation Serif', serif" stroke="#1a1a1a" stroke-width="0.09">-10.42*</text>
</svg></body></html>
